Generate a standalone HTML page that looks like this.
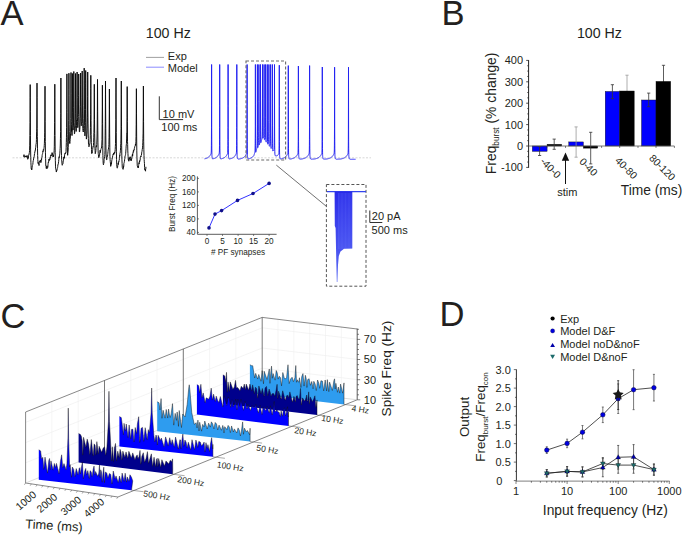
<!DOCTYPE html>
<html><head><meta charset="utf-8"><style>
html,body{margin:0;padding:0;background:#fff;}
svg{display:block;}
text{font-family:"Liberation Sans", sans-serif;}
</style></head><body>
<svg width="685" height="537" viewBox="0 0 685 537" font-family='"Liberation Sans", sans-serif'>
<rect width="685" height="537" fill="#fff"/>
<text x="0.6" y="24.9" font-size="34.6" text-anchor="start" fill="#231f20" >A</text>
<text x="145.8" y="38.1" font-size="14.2" text-anchor="start" fill="#231f20" >100 Hz</text>
<line x1="146" y1="57.4" x2="164" y2="57.4" stroke="#888" stroke-width="0.8"/>
<line x1="146" y1="67.2" x2="164" y2="67.2" stroke="#6d6dff" stroke-width="0.8"/>
<text x="167.8" y="60.2" font-size="11" text-anchor="start" fill="#231f20" >Exp</text>
<text x="167.8" y="71.6" font-size="11" text-anchor="start" fill="#231f20" >Model</text>
<line x1="12.5" y1="157.8" x2="371" y2="157.8" stroke="#bbb" stroke-width="0.6" stroke-dasharray="2,1.5"/>
<polyline points="23.40,156.24 23.55,156.20 23.70,156.49 23.85,156.45 24.00,154.67 24.15,156.49 24.30,156.44 24.45,157.17 24.60,157.11 24.75,157.02 24.90,157.06 25.05,156.99 25.20,155.95 25.35,155.87 25.50,156.67 25.65,157.01 25.80,156.91 25.95,156.51 26.10,156.40 26.25,156.03 26.40,157.25 26.55,157.12 26.70,156.33 26.85,156.17 27.00,155.49 27.15,156.10 27.30,155.91 27.45,157.52 27.60,157.30 27.75,159.27 27.90,159.09 28.05,158.82 28.20,157.42 28.35,157.90 28.50,156.03 28.65,155.27 28.80,154.84 28.95,154.92 29.10,154.01 29.25,153.08 29.40,152.46 29.55,150.32 29.70,145.15 29.85,135.51 30.00,122.52 30.15,97.43 30.20,84.60 30.30,111.33 30.45,135.70 30.60,149.92 30.75,157.55 30.90,162.62 31.05,165.36 31.20,168.50 31.35,169.05 31.50,168.57 31.65,169.99 31.80,169.74 31.95,168.92 32.10,167.76 32.25,165.88 32.40,165.52 32.55,164.98 32.70,164.57 32.85,164.31 33.00,162.29 33.15,160.89 33.30,160.62 33.45,160.05 33.60,158.91 33.75,157.43 33.90,157.59 34.05,157.09 34.20,156.55 34.35,155.11 34.50,153.79 34.65,153.48 34.80,151.87 34.95,151.33 35.10,151.47 35.25,150.10 35.40,150.26 35.55,148.02 35.70,147.36 35.85,146.12 36.00,144.39 36.15,143.98 36.30,142.63 36.45,139.35 36.60,131.84 36.75,128.04 36.90,107.11 37.00,83.10 37.05,97.48 37.20,128.19 37.35,136.64 37.50,148.21 37.65,155.42 37.80,159.70 37.95,161.69 38.10,163.46 38.25,162.54 38.40,163.19 38.55,163.92 38.70,163.63 38.85,164.18 39.00,165.56 39.15,163.22 39.30,161.74 39.45,162.03 39.60,161.50 39.75,161.81 39.90,160.97 40.05,161.12 40.20,160.61 40.35,160.10 40.50,160.11 40.65,161.90 40.80,162.59 40.95,162.66 41.10,162.21 41.25,159.91 41.40,159.63 41.55,160.08 41.70,157.91 41.85,157.50 42.00,157.33 42.15,155.48 42.30,154.54 42.45,153.90 42.60,153.50 42.75,152.55 42.90,151.21 43.05,151.79 43.20,149.99 43.35,149.52 43.50,150.01 43.65,150.39 43.80,149.28 43.95,148.46 44.10,147.41 44.25,145.62 44.40,143.33 44.55,137.61 44.70,132.86 44.85,116.96 45.00,86.20 45.00,86.20 45.15,121.73 45.30,141.42 45.45,152.23 45.60,158.64 45.75,165.00 45.90,166.28 46.05,166.42 46.20,168.33 46.35,168.75 46.50,168.45 46.65,166.77 46.80,165.84 46.95,166.77 47.10,166.34 47.25,168.42 47.40,168.35 47.55,167.75 47.70,167.51 47.85,167.02 48.00,164.76 48.15,163.29 48.30,162.16 48.45,162.65 48.60,162.21 48.75,160.77 48.90,159.18 49.05,160.50 49.20,160.53 49.35,160.17 49.50,160.23 49.65,159.52 49.80,159.97 49.95,157.97 50.10,157.67 50.25,158.22 50.40,156.77 50.55,155.72 50.70,155.07 50.85,154.81 51.00,155.44 51.15,155.61 51.30,156.09 51.45,155.02 51.60,154.76 51.75,153.66 51.90,153.27 52.05,152.67 52.20,153.23 52.35,152.94 52.50,155.20 52.65,155.32 52.80,156.41 52.95,157.04 53.10,156.66 53.25,155.34 53.40,155.95 53.55,156.61 53.70,154.70 53.85,153.79 54.00,153.23 54.15,150.67 54.30,146.74 54.45,135.55 54.60,122.44 54.75,97.14 54.80,84.20 54.90,111.00 55.05,135.54 55.20,152.48 55.35,160.29 55.50,166.14 55.65,168.70 55.80,169.44 55.95,169.42 56.10,169.69 56.25,171.90 56.40,171.97 56.55,170.48 56.70,170.43 56.85,169.93 57.00,170.28 57.15,169.42 57.30,168.36 57.45,168.14 57.60,167.51 57.75,166.49 57.90,164.65 58.05,164.30 58.20,164.45 58.35,163.83 58.50,162.01 58.65,161.44 58.80,159.63 58.95,157.47 59.10,156.84 59.25,157.62 59.40,155.82 59.55,155.79 59.70,154.19 59.85,153.24 60.00,150.68 60.15,148.56 60.30,145.01 60.45,138.51 60.60,131.60 60.75,113.34 60.90,78.00 60.90,78.00 61.05,117.13 61.20,139.10 61.35,149.04 61.50,155.61 61.65,159.68 61.80,160.98 61.95,163.03 62.10,164.50 62.25,165.28 62.40,164.51 62.55,164.27 62.70,163.98 62.85,164.10 63.00,163.38 63.15,161.04 63.30,161.10 63.45,160.55 63.60,159.01 63.75,157.21 63.90,157.50 64.05,157.57 64.20,156.79 64.35,158.34 64.50,155.93 64.65,154.24 64.80,153.94 64.95,153.17 65.10,153.21 65.25,153.64 65.40,154.08 65.55,153.52 65.70,152.57 65.85,152.83 66.00,151.63 66.15,147.59 66.30,142.64 66.45,137.31 66.60,127.48 66.75,109.19 66.90,73.90 66.90,73.90 67.05,112.61 67.20,134.33 67.35,146.34 67.50,152.84 67.65,155.31 67.80,153.38 67.95,152.68 68.10,151.42 68.25,147.36 68.40,141.89 68.55,137.01 68.70,120.64 68.85,89.22 68.90,73.20 69.00,95.37 69.15,124.25 69.30,131.50 69.45,140.32 69.60,143.32 69.75,143.52 69.90,143.63 70.05,141.33 70.20,139.62 70.35,138.09 70.50,134.09 70.65,134.62 70.80,118.57 70.95,88.03 71.00,72.50 71.10,93.81 71.25,121.63 71.40,124.25 71.55,131.43 71.70,130.98 71.85,128.42 72.00,135.58 72.15,123.57 72.30,100.27 72.40,73.50 72.45,79.06 72.60,112.22 72.75,119.20 72.90,127.95 73.05,130.09 73.20,127.82 73.35,125.62 73.50,125.71 73.65,107.29 73.80,71.50 73.80,71.50 73.95,100.85 74.10,122.60 74.25,126.58 74.40,133.72 74.55,133.83 74.70,132.84 74.85,130.38 75.00,126.52 75.15,127.38 75.30,113.51 75.45,86.99 75.50,73.50 75.60,90.27 75.75,115.02 75.90,120.93 76.05,130.11 76.20,131.47 76.35,128.75 76.50,125.53 76.65,120.12 76.80,120.72 76.95,104.06 77.10,72.00 77.10,72.00 77.25,97.68 77.40,117.46 77.55,121.61 77.70,127.62 77.85,127.66 78.00,125.12 78.15,122.26 78.30,116.62 78.45,114.60 78.60,95.62 78.70,74.00 78.75,76.86 78.90,104.36 79.05,116.43 79.20,124.93 79.35,131.95 79.50,131.82 79.65,131.54 79.80,129.42 79.95,127.32 80.10,123.03 80.25,118.40 80.40,106.58 80.55,84.28 80.60,73.00 80.70,86.19 80.85,107.50 81.00,117.22 81.15,124.94 81.30,125.79 81.45,124.84 81.60,124.16 81.75,121.26 81.90,111.98 82.05,97.83 82.20,71.00 82.20,71.00 82.35,93.00 82.50,113.05 82.65,123.61 82.80,128.69 82.95,130.49 83.10,130.82 83.25,132.00 83.40,130.20 83.55,128.35 83.70,124.98 83.85,118.33 84.00,105.60 84.15,80.81 84.20,68.10 84.30,85.07 84.45,109.72 84.60,125.38 84.75,133.23 84.90,135.88 85.05,134.29 85.20,131.36 85.35,122.45 85.50,109.48 85.65,83.76 85.70,70.50 85.80,87.59 85.95,113.22 86.10,130.16 86.25,136.16 86.40,139.12 86.55,137.54 86.70,137.46 86.85,134.77 87.00,133.18 87.15,128.93 87.30,124.07 87.45,117.83 87.60,96.49 87.70,72.00 87.75,77.65 87.90,109.06 88.05,123.86 88.20,134.02 88.35,138.65 88.50,144.33 88.65,145.52 88.80,145.78 88.95,146.81 89.10,146.26 89.25,145.74 89.40,145.58 89.55,144.97 89.70,143.81 89.85,143.81 90.00,142.25 90.15,139.40 90.30,135.25 90.45,127.73 90.60,114.20 90.75,88.42 90.80,75.30 90.90,95.83 91.05,120.56 91.20,134.77 91.35,142.59 91.50,149.48 91.65,153.30 91.80,153.67 91.95,153.07 92.10,152.10 92.25,152.51 92.40,151.16 92.55,150.64 92.70,149.47 92.85,147.67 93.00,146.69 93.15,147.17 93.30,146.05 93.45,145.29 93.60,142.41 93.75,137.85 93.90,132.40 94.05,123.18 94.20,104.99 94.30,84.30 94.35,92.16 94.50,119.22 94.65,133.28 94.80,141.97 94.95,148.30 95.10,150.75 95.25,153.66 95.40,152.73 95.55,152.65 95.70,151.86 95.85,150.50 96.00,148.40 96.15,146.56 96.30,145.72 96.45,146.69 96.60,146.82 96.75,144.58 96.90,140.99 97.05,136.03 97.20,127.94 97.35,111.31 97.50,79.40 97.50,79.40 97.65,109.97 97.80,130.17 97.95,142.83 98.10,150.23 98.25,153.65 98.40,154.65 98.55,156.10 98.70,157.44 98.85,157.73 99.00,156.42 99.15,156.59 99.30,156.21 99.45,156.11 99.60,155.15 99.75,152.56 99.90,151.59 100.05,150.96 100.20,150.04 100.35,152.61 100.50,151.51 100.65,150.28 100.80,149.57 100.95,149.28 101.10,148.56 101.25,148.31 101.40,148.23 101.55,146.91 101.70,147.13 101.85,143.01 102.00,139.39 102.15,124.52 102.30,106.16 102.40,85.20 102.45,96.13 102.60,123.61 102.75,145.53 102.90,155.51 103.05,160.72 103.20,163.35 103.35,164.51 103.50,164.83 103.65,163.64 103.80,163.36 103.95,162.99 104.10,159.58 104.25,158.93 104.40,158.11 104.55,156.88 104.70,156.27 104.85,154.47 105.00,150.47 105.15,135.85 105.30,121.71 105.45,94.74 105.50,81.00 105.60,102.64 105.75,128.31 105.90,144.90 106.05,153.07 106.20,156.29 106.35,158.53 106.50,158.65 106.65,159.80 106.80,159.74 106.95,157.54 107.10,156.22 107.25,155.63 107.40,156.41 107.55,155.79 107.70,154.38 107.85,153.25 108.00,151.58 108.15,150.15 108.30,149.14 108.45,149.09 108.60,147.90 108.75,146.37 108.90,144.59 109.05,137.41 109.20,124.92 109.35,101.11 109.40,89.00 109.50,109.88 109.65,133.10 109.80,147.53 109.95,156.48 110.10,159.55 110.25,161.57 110.40,162.99 110.55,164.03 110.70,166.36 110.85,166.03 111.00,164.22 111.15,163.94 111.30,163.60 111.45,164.28 111.60,161.95 111.75,160.85 111.90,159.86 112.05,159.35 112.20,158.00 112.35,158.08 112.50,157.77 112.65,156.04 112.80,155.50 112.95,154.76 113.10,154.46 113.25,154.95 113.40,154.36 113.55,153.85 113.70,152.89 113.85,154.46 114.00,153.85 114.15,153.53 114.30,153.00 114.45,153.24 114.60,152.06 114.75,152.65 114.90,152.09 115.05,151.06 115.20,149.49 115.35,146.73 115.50,143.61 115.65,134.04 115.80,119.74 115.95,92.13 116.00,78.00 116.10,106.12 116.25,132.51 116.40,151.19 116.55,159.52 116.70,164.20 116.85,166.70 117.00,167.36 117.15,168.13 117.30,168.13 117.45,167.40 117.60,167.24 117.75,165.65 117.90,164.69 118.05,164.18 118.20,162.85 118.35,164.51 118.50,163.33 118.65,161.75 118.80,161.10 118.95,161.46 119.10,160.30 119.25,160.08 119.40,158.53 119.55,157.83 119.70,155.15 119.85,155.67 120.00,153.29 120.15,152.99 120.30,151.87 120.45,150.28 120.60,147.28 120.75,143.68 120.90,139.96 121.05,128.38 121.20,106.29 121.30,81.00 121.35,94.82 121.50,126.85 121.65,145.31 121.80,155.20 121.95,159.81 122.10,163.37 122.25,167.14 122.40,167.98 122.55,168.46 122.70,168.77 122.85,168.67 123.00,169.25 123.15,169.30 123.30,168.80 123.45,168.11 123.60,165.93 123.75,166.24 123.90,163.38 124.05,162.74 124.20,162.63 124.35,161.71 124.50,161.06 124.65,159.22 124.80,158.57 124.95,156.41 125.10,156.43 125.25,155.85 125.40,155.19 125.55,154.52 125.70,153.29 125.85,151.08 126.00,148.74 126.15,146.14 126.30,144.93 126.45,143.43 126.60,138.96 126.75,133.63 126.90,133.95 127.05,117.79 127.20,86.60 127.20,86.60 127.35,121.40 127.50,141.25 127.65,144.45 127.80,150.91 127.95,153.55 128.10,156.53 128.25,159.43 128.40,159.82 128.55,160.24 128.70,159.42 128.85,161.22 129.00,159.46 129.15,158.10 129.30,157.66 129.45,159.37 129.60,158.62 129.75,158.35 129.90,157.65 130.05,157.15 130.20,156.72 130.35,157.00 130.50,158.63 130.65,159.88 130.80,159.43 130.95,159.66 131.10,160.98 131.25,158.81 131.40,159.62 131.55,159.25 131.70,159.19 131.85,157.90 132.00,156.66 132.15,155.50 132.30,155.18 132.45,154.17 132.60,156.20 132.75,154.71 132.90,152.94 133.05,152.65 133.20,152.90 133.35,150.58 133.50,150.42 133.65,151.40 133.80,151.08 133.95,150.05 134.10,149.55 134.25,149.84 134.40,148.30 134.55,147.93 134.70,146.64 134.85,146.25 135.00,146.28 135.15,146.19 135.30,145.52 135.45,144.05 135.60,145.29 135.75,144.47 135.90,141.64 136.05,136.53 136.20,124.30 136.35,100.74 136.40,88.70 136.50,113.82 136.65,136.96 136.80,150.82 136.95,157.11 137.10,162.00 137.25,165.85 137.40,165.89 137.55,166.84 137.70,167.02 137.85,167.41 138.00,166.56 138.15,167.68 138.30,167.27 138.45,167.67 138.60,165.56 138.75,164.37 138.90,163.21 139.05,162.64 139.20,163.68 139.35,162.32 139.50,160.67 139.65,161.80 139.80,161.24 139.95,160.72 140.10,160.37 140.25,158.83 140.40,157.55 140.55,157.04 140.70,156.41 140.85,155.99 141.00,156.71 141.15,155.72 141.30,155.21 141.45,155.02 141.60,154.03 141.75,152.08 141.90,151.65 142.05,151.04 142.20,149.67 142.35,149.00 142.50,147.87 142.65,145.48 142.80,142.85 142.95,138.56 143.10,133.13 143.25,117.07 143.40,86.00 143.40,86.00 143.55,121.46 143.70,141.28 143.85,149.41 144.00,155.52 144.15,159.50 144.30,161.81 144.45,163.38 144.60,167.45 144.75,169.61 144.90,169.04 145.05,168.99 145.20,169.37 145.35,170.91 145.50,171.20 145.65,169.13 145.80,168.71 145.95,166.82" fill="none" stroke="#0a0a0a" stroke-width="0.95" stroke-linejoin="round"/>
<polyline points="204.50,158.84 204.55,158.83 204.60,158.83 204.65,158.82 204.70,158.81 204.75,158.80 204.80,158.79 204.85,158.78 204.90,158.77 204.95,158.76 205.00,158.75 205.05,158.74 205.10,158.73 205.15,158.71 205.20,158.70 205.25,158.69 205.30,158.68 205.35,158.67 205.40,158.66 205.45,158.64 205.50,158.63 205.55,158.62 205.60,158.60 205.65,158.59 205.70,158.58 205.75,158.56 205.80,158.55 205.85,158.53 205.90,158.52 205.95,158.50 206.00,158.49 206.05,158.47 206.10,158.46 206.15,158.44 206.20,158.42 206.25,158.41 206.30,158.39 206.35,158.37 206.40,158.35 206.45,158.33 206.50,158.32 206.55,158.30 206.60,158.28 206.65,158.26 206.70,158.24 206.75,158.22 206.80,158.20 206.85,158.17 206.90,158.15 206.95,158.13 207.00,158.11 207.05,158.08 207.10,158.06 207.15,158.04 207.20,158.01 207.25,157.99 207.30,157.96 207.35,157.93 207.40,157.91 207.45,157.88 207.50,157.85 207.55,157.83 207.60,157.80 207.65,157.77 207.70,157.74 207.75,157.71 207.80,157.68 207.85,157.65 207.90,157.61 207.95,157.58 208.00,157.55 208.05,157.51 208.10,157.48 208.15,157.44 208.20,157.41 208.25,157.37 208.30,157.33 208.35,157.29 208.40,157.26 208.45,157.22 208.50,157.18 208.55,157.13 208.60,157.09 208.65,157.05 208.70,157.01 208.75,156.96 208.80,156.92 208.85,156.87 208.90,156.82 208.95,156.77 209.00,156.72 209.05,156.67 209.10,156.62 209.15,156.57 209.20,156.52 209.25,156.46 209.30,156.41 209.35,156.35 209.40,156.30 209.45,156.24 209.50,156.18 209.55,156.12 209.60,156.06 209.65,155.99 209.70,155.93 209.75,155.86 209.80,155.80 209.85,155.73 209.90,155.66 209.95,155.59 210.00,155.52 210.05,155.44 210.10,155.37 210.15,155.29 210.20,155.21 210.25,155.14 210.30,155.05 210.35,154.97 210.40,154.89 210.45,154.80 210.50,154.71 210.55,154.63 210.60,154.53 210.65,154.44 210.70,154.35 210.75,154.25 210.80,154.15 210.85,154.05 210.90,153.94 210.95,153.82 211.00,153.69 211.05,153.54 211.10,153.36 211.15,153.10 211.20,152.71 211.25,152.08 211.30,151.00 211.35,149.08 211.40,145.61 211.45,139.23 211.50,127.41 211.55,105.44 211.60,64.50 211.60,64.50 211.65,106.24 211.70,128.88 211.75,141.28 211.80,148.14 211.85,152.02 211.90,154.26 211.95,155.62 212.00,156.48 212.05,157.05 212.10,157.45 212.15,157.76 212.20,157.99 212.25,158.18 212.30,158.34 212.35,158.47 212.40,158.58 212.45,158.68 212.50,158.76 212.55,158.84 212.60,158.84 212.65,158.83 212.70,158.83 212.75,158.82 212.80,158.81 212.85,158.80 212.90,158.79 212.95,158.78 213.00,158.77 213.05,158.76 213.10,158.75 213.15,158.74 213.20,158.73 213.25,158.71 213.30,158.70 213.35,158.69 213.40,158.68 213.45,158.67 213.50,158.66 213.55,158.64 213.60,158.63 213.65,158.62 213.70,158.60 213.75,158.59 213.80,158.58 213.85,158.56 213.90,158.55 213.95,158.53 214.00,158.52 214.05,158.50 214.10,158.49 214.15,158.47 214.20,158.46 214.25,158.44 214.30,158.42 214.35,158.41 214.40,158.39 214.45,158.37 214.50,158.35 214.55,158.33 214.60,158.32 214.65,158.30 214.70,158.28 214.75,158.26 214.80,158.24 214.85,158.22 214.90,158.20 214.95,158.17 215.00,158.15 215.05,158.13 215.10,158.11 215.15,158.08 215.20,158.06 215.25,158.04 215.30,158.01 215.35,157.99 215.40,157.96 215.45,157.93 215.50,157.91 215.55,157.88 215.60,157.85 215.65,157.83 215.70,157.80 215.75,157.77 215.80,157.74 215.85,157.71 215.90,157.68 215.95,157.65 216.00,157.61 216.05,157.58 216.10,157.55 216.15,157.51 216.20,157.48 216.25,157.44 216.30,157.41 216.35,157.37 216.40,157.33 216.45,157.29 216.50,157.26 216.55,157.22 216.60,157.18 216.65,157.13 216.70,157.09 216.75,157.05 216.80,157.01 216.85,156.96 216.90,156.92 216.95,156.87 217.00,156.82 217.05,156.77 217.10,156.72 217.15,156.67 217.20,156.62 217.25,156.57 217.30,156.52 217.35,156.46 217.40,156.41 217.45,156.35 217.50,156.30 217.55,156.24 217.60,156.18 217.65,156.12 217.70,156.06 217.75,155.99 217.80,155.93 217.85,155.86 217.90,155.80 217.95,155.73 218.00,155.66 218.05,155.59 218.10,155.52 218.15,155.44 218.20,155.37 218.25,155.29 218.30,155.21 218.35,155.14 218.40,155.05 218.45,154.97 218.50,154.89 218.55,154.80 218.60,154.71 218.65,154.63 218.70,154.53 218.75,154.44 218.80,154.35 218.85,154.25 218.90,154.15 218.95,154.05 219.00,153.94 219.05,153.82 219.10,153.69 219.15,153.54 219.20,153.36 219.25,153.10 219.30,152.71 219.35,152.08 219.40,151.00 219.45,149.08 219.50,145.61 219.55,139.23 219.60,127.41 219.65,105.44 219.70,64.50 219.70,64.50 219.75,106.24 219.80,128.88 219.85,141.28 219.90,148.14 219.95,152.02 220.00,154.26 220.05,155.62 220.10,156.48 220.15,157.05 220.20,157.45 220.25,157.76 220.30,157.99 220.35,158.18 220.40,158.34 220.45,158.47 220.50,158.58 220.55,158.68 220.60,158.76 220.65,158.84 220.70,158.89 220.75,158.89 220.80,158.88 220.85,158.87 220.90,158.86 220.95,158.85 221.00,158.84 221.05,158.83 221.10,158.83 221.15,158.82 221.20,158.81 221.25,158.80 221.30,158.79 221.35,158.78 221.40,158.77 221.45,158.76 221.50,158.75 221.55,158.74 221.60,158.73 221.65,158.71 221.70,158.70 221.75,158.69 221.80,158.68 221.85,158.67 221.90,158.66 221.95,158.64 222.00,158.63 222.05,158.62 222.10,158.60 222.15,158.59 222.20,158.58 222.25,158.56 222.30,158.55 222.35,158.53 222.40,158.52 222.45,158.50 222.50,158.49 222.55,158.47 222.60,158.46 222.65,158.44 222.70,158.42 222.75,158.41 222.80,158.39 222.85,158.37 222.90,158.35 222.95,158.33 223.00,158.32 223.05,158.30 223.10,158.28 223.15,158.26 223.20,158.24 223.25,158.22 223.30,158.20 223.35,158.17 223.40,158.15 223.45,158.13 223.50,158.11 223.55,158.08 223.60,158.06 223.65,158.04 223.70,158.01 223.75,157.99 223.80,157.96 223.85,157.93 223.90,157.91 223.95,157.88 224.00,157.85 224.05,157.83 224.10,157.80 224.15,157.77 224.20,157.74 224.25,157.71 224.30,157.68 224.35,157.65 224.40,157.61 224.45,157.58 224.50,157.55 224.55,157.51 224.60,157.48 224.65,157.44 224.70,157.41 224.75,157.37 224.80,157.33 224.85,157.29 224.90,157.26 224.95,157.22 225.00,157.18 225.05,157.13 225.10,157.09 225.15,157.05 225.20,157.01 225.25,156.96 225.30,156.92 225.35,156.87 225.40,156.82 225.45,156.77 225.50,156.72 225.55,156.67 225.60,156.62 225.65,156.57 225.70,156.52 225.75,156.46 225.80,156.41 225.85,156.35 225.90,156.30 225.95,156.24 226.00,156.18 226.05,156.12 226.10,156.06 226.15,155.99 226.20,155.93 226.25,155.86 226.30,155.80 226.35,155.73 226.40,155.66 226.45,155.59 226.50,155.52 226.55,155.44 226.60,155.37 226.65,155.29 226.70,155.21 226.75,155.14 226.80,155.05 226.85,154.97 226.90,154.89 226.95,154.80 227.00,154.71 227.05,154.63 227.10,154.53 227.15,154.44 227.20,154.35 227.25,154.25 227.30,154.15 227.35,154.05 227.40,153.94 227.45,153.82 227.50,153.69 227.55,153.54 227.60,153.36 227.65,153.10 227.70,152.71 227.75,152.08 227.80,151.00 227.85,149.08 227.90,145.61 227.95,139.23 228.00,127.41 228.05,105.44 228.10,64.50 228.10,64.50 228.15,106.24 228.20,128.88 228.25,141.28 228.30,148.14 228.35,152.02 228.40,154.26 228.45,155.62 228.50,156.48 228.55,157.05 228.60,157.45 228.65,157.76 228.70,157.99 228.75,158.18 228.80,158.34 228.85,158.47 228.90,158.58 228.95,158.68 229.00,158.76 229.05,158.84 229.10,158.90 229.15,158.93 229.20,158.92 229.25,158.92 229.30,158.91 229.35,158.90 229.40,158.89 229.45,158.89 229.50,158.88 229.55,158.87 229.60,158.86 229.65,158.85 229.70,158.84 229.75,158.83 229.80,158.83 229.85,158.82 229.90,158.81 229.95,158.80 230.00,158.79 230.05,158.78 230.10,158.77 230.15,158.76 230.20,158.75 230.25,158.74 230.30,158.73 230.35,158.71 230.40,158.70 230.45,158.69 230.50,158.68 230.55,158.67 230.60,158.66 230.65,158.64 230.70,158.63 230.75,158.62 230.80,158.60 230.85,158.59 230.90,158.58 230.95,158.56 231.00,158.55 231.05,158.53 231.10,158.52 231.15,158.50 231.20,158.49 231.25,158.47 231.30,158.46 231.35,158.44 231.40,158.42 231.45,158.41 231.50,158.39 231.55,158.37 231.60,158.35 231.65,158.33 231.70,158.32 231.75,158.30 231.80,158.28 231.85,158.26 231.90,158.24 231.95,158.22 232.00,158.20 232.05,158.17 232.10,158.15 232.15,158.13 232.20,158.11 232.25,158.08 232.30,158.06 232.35,158.04 232.40,158.01 232.45,157.99 232.50,157.96 232.55,157.93 232.60,157.91 232.65,157.88 232.70,157.85 232.75,157.83 232.80,157.80 232.85,157.77 232.90,157.74 232.95,157.71 233.00,157.68 233.05,157.65 233.10,157.61 233.15,157.58 233.20,157.55 233.25,157.51 233.30,157.48 233.35,157.44 233.40,157.41 233.45,157.37 233.50,157.33 233.55,157.29 233.60,157.26 233.65,157.22 233.70,157.18 233.75,157.13 233.80,157.09 233.85,157.05 233.90,157.01 233.95,156.96 234.00,156.92 234.05,156.87 234.10,156.82 234.15,156.77 234.20,156.72 234.25,156.67 234.30,156.62 234.35,156.57 234.40,156.52 234.45,156.46 234.50,156.41 234.55,156.35 234.60,156.30 234.65,156.24 234.70,156.18 234.75,156.12 234.80,156.06 234.85,155.99 234.90,155.93 234.95,155.86 235.00,155.80 235.05,155.73 235.10,155.66 235.15,155.59 235.20,155.52 235.25,155.44 235.30,155.37 235.35,155.29 235.40,155.21 235.45,155.14 235.50,155.05 235.55,154.97 235.60,154.89 235.65,154.80 235.70,154.71 235.75,154.63 235.80,154.53 235.85,154.44 235.90,154.35 235.95,154.25 236.00,154.15 236.05,154.05 236.10,153.94 236.15,153.82 236.20,153.69 236.25,153.54 236.30,153.36 236.35,153.10 236.40,152.71 236.45,152.08 236.50,151.00 236.55,149.08 236.60,145.61 236.65,139.23 236.70,127.41 236.75,105.44 236.80,64.50 236.80,64.50 236.85,106.24 236.90,128.88 236.95,141.28 237.00,148.14 237.05,152.02 237.10,154.26 237.15,155.62 237.20,156.48 237.25,157.05 237.30,157.45 237.35,157.76 237.40,157.99 237.45,158.18 237.50,158.34 237.55,158.47 237.60,158.58 237.65,158.68 237.70,158.76 237.75,158.84 237.80,158.90 237.85,158.95 237.90,159.00 237.95,159.04 238.00,159.07 238.05,159.08 238.10,159.08 238.15,159.08 238.20,159.07 238.25,159.07 238.30,159.06 238.35,159.06 238.40,159.05 238.45,159.05 238.50,159.04 238.55,159.04 238.60,159.03 238.65,159.03 238.70,159.02 238.75,159.02 238.80,159.01 238.85,159.01 238.90,159.00 238.95,159.00 239.00,158.99 239.05,158.98 239.10,158.98 239.15,158.97 239.20,158.96 239.25,158.96 239.30,158.95 239.35,158.94 239.40,158.94 239.45,158.93 239.50,158.92 239.55,158.92 239.60,158.91 239.65,158.90 239.70,158.89 239.75,158.89 239.80,158.88 239.85,158.87 239.90,158.86 239.95,158.85 240.00,158.84 240.05,158.83 240.10,158.83 240.15,158.82 240.20,158.81 240.25,158.80 240.30,158.79 240.35,158.78 240.40,158.77 240.45,158.76 240.50,158.75 240.55,158.74 240.60,158.73 240.65,158.71 240.70,158.70 240.75,158.69 240.80,158.68 240.85,158.67 240.90,158.66 240.95,158.64 241.00,158.63 241.05,158.62 241.10,158.60 241.15,158.59 241.20,158.58 241.25,158.56 241.30,158.55 241.35,158.53 241.40,158.52 241.45,158.50 241.50,158.49 241.55,158.47 241.60,158.46 241.65,158.44 241.70,158.42 241.75,158.41 241.80,158.39 241.85,158.37 241.90,158.35 241.95,158.33 242.00,158.32 242.05,158.30 242.10,158.28 242.15,158.26 242.20,158.24 242.25,158.22 242.30,158.20 242.35,158.17 242.40,158.15 242.45,158.13 242.50,158.11 242.55,158.08 242.60,158.06 242.65,158.04 242.70,158.01 242.75,157.99 242.80,157.96 242.85,157.93 242.90,157.91 242.95,157.88 243.00,157.85 243.05,157.83 243.10,157.80 243.15,157.77 243.20,157.74 243.25,157.71 243.30,157.68 243.35,157.65 243.40,157.61 243.45,157.58 243.50,157.55 243.55,157.51 243.60,157.48 243.65,157.44 243.70,157.41 243.75,157.37 243.80,157.33 243.85,157.29 243.90,157.26 243.95,157.22 244.00,157.18 244.05,157.13 244.10,157.09 244.15,157.05 244.20,157.01 244.25,156.96 244.30,156.92 244.35,156.87 244.40,156.82 244.45,156.77 244.50,156.72 244.55,156.67 244.60,156.62 244.65,156.57 244.70,156.52 244.75,156.46 244.80,156.41 244.85,156.35 244.90,156.30 244.95,156.24 245.00,156.18 245.05,156.12 245.10,156.06 245.15,155.99 245.20,155.93 245.25,155.86 245.30,155.80 245.35,155.73 245.40,155.66 245.45,155.59 245.50,155.52 245.55,155.44 245.60,155.37 245.65,155.29 245.70,155.21 245.75,155.14 245.80,155.05 245.85,154.97 245.90,154.89 245.95,154.80 246.00,154.71 246.05,154.63 246.10,154.53 246.15,154.44 246.20,154.35 246.25,154.25 246.30,154.15 246.35,154.05 246.40,153.94 246.45,153.82 246.50,153.69 246.55,153.54 246.60,153.36 246.65,153.10 246.70,152.71 246.75,152.08 246.80,151.00 246.85,149.08 246.90,145.61 246.95,139.23 247.00,127.41 247.05,105.44 247.10,64.50 247.10,64.50 247.15,106.24 247.20,128.88 247.25,141.28 247.30,148.14 247.35,152.02 247.40,154.26 247.45,155.62 247.50,156.48 247.55,157.05 247.60,157.45 247.65,157.76 247.70,157.99 247.75,158.18 247.80,158.34 247.85,158.47 247.90,158.58 247.95,158.68 248.00,158.76 248.05,158.84 248.10,158.88 248.15,158.87 248.20,158.86 248.25,158.85 248.30,158.84 248.35,158.83 248.40,158.83 248.45,158.82 248.50,158.81 248.55,158.80 248.60,158.79 248.65,158.78 248.70,158.77 248.75,158.76 248.80,158.75 248.85,158.74 248.90,158.73 248.95,158.71 249.00,158.70 249.05,158.69 249.10,158.68 249.15,158.67 249.20,158.66 249.25,158.64 249.30,158.63 249.35,158.62 249.40,158.60 249.45,158.59 249.50,158.58 249.55,158.56 249.60,158.55 249.65,158.53 249.70,158.52 249.75,158.50 249.80,158.49 249.85,158.47 249.90,158.46 249.95,158.44 250.00,158.42 250.05,158.41 250.10,158.39 250.15,158.37 250.20,158.35 250.25,158.33 250.30,158.32 250.35,158.30 250.40,158.28 250.45,158.26 250.50,158.24 250.55,158.22 250.60,158.20 250.65,158.17 250.70,158.15 250.75,158.13 250.80,158.11 250.85,158.08 250.90,158.06 250.95,158.04 251.00,158.01 251.05,157.99 251.10,157.96 251.15,157.93 251.20,157.91 251.25,157.88 251.30,157.85 251.35,157.83 251.40,157.80 251.45,157.77 251.50,157.74 251.55,157.71 251.60,157.68 251.65,157.65 251.70,157.61 251.75,157.58 251.80,157.55 251.85,157.51 251.90,157.48 251.95,157.44 252.00,157.41 252.05,157.37 252.10,157.33 252.15,157.29 252.20,157.26 252.25,157.22 252.30,157.18 252.35,157.13 252.40,157.09 252.45,157.05 252.50,157.01 252.55,156.96 252.60,156.92 252.65,156.87 252.70,156.82 252.75,156.77 252.80,156.72 252.85,156.67 252.90,156.62 252.95,156.57 253.00,156.52 253.05,156.46 253.10,156.41 253.15,156.35 253.20,156.30 253.25,156.24 253.30,156.18 253.35,156.12 253.40,156.06 253.45,155.99 253.50,155.93 253.55,155.86 253.60,155.80 253.65,155.73 253.70,155.66 253.75,155.59 253.80,155.52 253.85,155.44 253.90,155.37 253.95,155.29 254.00,155.21 254.05,155.04 254.10,154.87 254.15,154.69 254.20,154.51 254.25,154.33 254.30,154.15 254.35,153.96 254.40,153.78 254.45,153.59 254.50,153.40 254.55,153.21 254.60,153.02 254.65,152.82 254.70,152.62 254.75,152.41 254.80,152.18 254.85,151.94 254.90,151.66 254.95,151.31 255.00,150.84 255.05,150.13 255.10,148.98 255.15,147.03 255.20,143.56 255.25,137.27 255.30,125.71 255.35,104.30 255.40,64.50 255.40,64.50 255.45,104.91 255.50,126.81 255.55,138.75 255.60,145.33 255.65,149.02 255.70,151.12 255.75,152.28 255.80,152.12 255.85,151.95 255.90,151.78 255.95,151.61 256.00,151.44 256.05,151.26 256.10,151.09 256.15,150.91 256.20,150.73 256.25,150.55 256.30,150.37 256.35,150.19 256.40,150.00 256.45,149.81 256.50,149.62 256.55,149.43 256.60,149.24 256.65,149.04 256.70,148.84 256.75,148.63 256.80,148.41 256.85,148.17 256.90,147.89 256.95,147.55 257.00,147.08 257.05,146.40 257.10,145.29 257.15,143.42 257.20,140.09 257.25,134.07 257.30,123.02 257.35,102.55 257.40,64.50 257.40,64.50 257.45,103.16 257.50,124.11 257.55,135.55 257.60,141.87 257.65,145.40 257.70,147.43 257.75,147.72 257.80,147.54 257.85,147.35 257.90,147.17 257.95,146.98 258.00,146.79 258.05,146.60 258.10,146.41 258.15,146.21 258.20,146.01 258.25,145.80 258.30,145.58 258.35,145.34 258.40,145.06 258.45,144.72 258.50,144.27 258.55,143.60 258.60,142.53 258.65,140.71 258.70,137.49 258.75,131.68 258.80,120.99 258.85,101.23 258.90,64.50 258.90,64.50 258.95,101.84 259.00,122.09 259.05,133.16 259.10,139.27 259.15,142.69 259.20,144.66 259.25,145.06 259.30,144.88 259.35,144.70 259.40,144.51 259.45,144.33 259.50,144.15 259.55,143.96 259.60,143.77 259.65,143.58 259.70,143.38 259.75,143.19 259.80,142.98 259.85,142.78 259.90,142.56 259.95,142.32 260.00,142.05 260.05,141.71 260.10,141.27 260.15,140.61 260.20,139.58 260.25,137.82 260.30,134.72 260.35,129.12 260.40,118.84 260.45,99.83 260.50,64.50 260.50,64.50 260.55,100.44 260.60,119.94 260.65,130.60 260.70,136.49 260.75,139.80 260.80,141.71 260.85,142.65 260.90,142.48 260.95,142.32 261.00,142.15 261.05,141.98 261.10,141.80 261.15,141.63 261.20,141.45 261.25,141.28 261.30,141.10 261.35,140.92 261.40,140.74 261.45,140.55 261.50,140.37 261.55,140.18 261.60,139.99 261.65,139.80 261.70,139.61 261.75,139.41 261.80,139.21 261.85,139.00 261.90,138.78 261.95,138.54 262.00,138.28 262.05,137.95 262.10,137.51 262.15,136.88 262.20,135.89 262.25,134.21 262.30,131.25 262.35,125.92 262.40,116.14 262.45,98.07 262.50,64.50 262.50,64.50 262.55,98.68 262.60,117.24 262.65,127.40 262.70,133.02 262.75,136.19 262.80,138.02 262.85,138.26 262.90,138.08 262.95,137.90 263.00,137.71 263.05,137.69 263.10,137.67 263.15,137.65 263.20,137.62 263.25,137.59 263.30,137.56 263.35,137.52 263.40,137.48 263.45,137.44 263.50,137.38 263.55,137.31 263.60,137.20 263.65,137.03 263.70,136.76 263.75,136.29 263.80,135.44 263.85,133.92 263.90,131.10 263.95,125.89 264.00,116.20 264.05,98.16 264.10,64.50 264.10,64.50 264.15,99.09 264.20,117.95 264.25,128.34 264.30,134.17 264.35,137.52 264.40,139.52 264.45,139.75 264.50,139.73 264.55,139.71 264.60,139.69 264.65,139.66 264.70,139.63 264.75,139.60 264.80,139.57 264.85,139.53 264.90,139.49 264.95,139.44 265.00,139.38 265.05,139.31 265.10,139.20 265.15,139.02 265.20,138.74 265.25,138.26 265.30,137.39 265.35,135.82 265.40,132.93 265.45,127.58 265.50,117.63 265.55,99.08 265.60,64.50 265.60,64.50 265.65,100.01 265.70,119.36 265.75,130.02 265.80,135.98 265.85,139.41 265.90,141.45 265.95,142.06 266.00,142.05 266.05,142.03 266.10,142.01 266.15,141.99 266.20,141.97 266.25,141.94 266.30,141.92 266.35,141.89 266.40,141.86 266.45,141.83 266.50,141.79 266.55,141.75 266.60,141.71 266.65,141.66 266.70,141.60 266.75,141.52 266.80,141.40 266.85,141.23 266.90,140.94 266.95,140.44 267.00,139.55 267.05,137.93 267.10,134.95 267.15,129.44 267.20,119.19 267.25,100.11 267.30,64.50 267.30,64.50 267.35,101.03 267.40,120.92 267.45,131.87 267.50,137.99 267.55,141.50 267.60,143.58 267.65,144.08 267.70,144.06 267.75,144.04 267.80,144.01 267.85,143.99 267.90,143.96 267.95,143.93 268.00,143.90 268.05,143.86 268.10,143.83 268.15,143.78 268.20,143.74 268.25,143.69 268.30,143.62 268.35,143.54 268.40,143.42 268.45,143.24 268.50,142.94 268.55,142.43 268.60,141.51 268.65,139.85 268.70,136.80 268.75,131.14 268.80,120.63 268.85,101.04 268.90,64.50 268.90,64.50 268.95,101.96 269.00,122.35 269.05,133.56 269.10,139.82 269.15,143.40 269.20,145.52 269.25,146.23 269.30,146.21 269.35,146.19 269.40,146.17 269.45,146.14 269.50,146.12 269.55,146.09 269.60,146.06 269.65,146.02 269.70,145.99 269.75,145.95 269.80,145.91 269.85,145.87 269.90,145.82 269.95,145.77 270.00,145.70 270.05,145.62 270.10,145.49 270.15,145.31 270.20,145.00 270.25,144.47 270.30,143.53 270.35,141.83 270.40,138.69 270.45,132.89 270.50,122.10 270.55,101.99 270.60,64.50 270.60,64.50 270.65,102.91 270.70,123.81 270.75,135.29 270.80,141.69 270.85,145.35 270.90,147.51 270.95,148.42 271.00,148.40 271.05,148.38 271.10,148.36 271.15,148.33 271.20,148.31 271.25,148.28 271.30,148.25 271.35,148.22 271.40,148.19 271.45,148.15 271.50,148.11 271.55,148.08 271.60,148.03 271.65,147.99 271.70,147.94 271.75,147.88 271.80,147.81 271.85,147.72 271.90,147.59 271.95,147.40 272.00,147.08 272.05,146.54 272.10,145.57 272.15,143.82 272.20,140.60 272.25,134.65 272.30,123.58 272.35,102.96 272.40,64.50 272.40,64.50 272.45,103.87 272.50,125.28 272.55,137.03 272.60,143.58 272.65,147.31 272.70,149.51 272.75,150.86 272.80,150.89 272.85,150.88 272.90,150.86 272.95,150.84 273.00,150.82 273.05,150.80 273.10,150.77 273.15,150.75 273.20,150.72 273.25,150.69 273.30,150.66 273.35,150.63 273.40,150.60 273.45,150.56 273.50,150.53 273.55,150.49 273.60,150.45 273.65,150.40 273.70,150.35 273.75,150.30 273.80,150.25 273.85,150.19 273.90,150.11 273.95,150.01 274.00,149.88 274.05,149.68 274.10,149.35 274.15,148.79 274.20,147.80 274.25,145.99 274.30,142.69 274.35,136.56 274.40,125.19 274.45,104.01 274.50,64.50 274.50,64.50 274.55,104.91 274.60,126.87 274.65,138.92 274.70,145.62 274.75,149.43 274.80,151.67 274.85,153.04 274.90,153.93 274.95,154.55 275.00,154.99 275.05,155.34 275.10,155.54 275.15,155.56 275.20,155.59 275.25,155.61 275.30,155.63 275.35,155.64 275.40,155.66 275.45,155.68 275.50,155.70 275.55,155.71 275.60,155.73 275.65,155.74 275.70,155.76 275.75,155.77 275.80,155.78 275.85,155.79 275.90,155.80 275.95,155.81 276.00,155.82 276.05,155.82 276.10,155.83 276.15,155.84 276.20,155.84 276.25,155.84 276.30,155.85 276.35,155.85 276.40,155.85 276.45,155.85 276.50,155.84 276.55,155.84 276.60,155.83 276.65,155.83 276.70,155.82 276.75,155.81 276.80,155.80 276.85,155.79 276.90,155.78 276.95,155.77 277.00,155.75 277.05,155.73 277.10,155.72 277.15,155.70 277.20,155.67 277.25,155.65 277.30,155.63 277.35,155.60 277.40,155.57 277.45,155.54 277.50,155.51 277.55,155.48 277.60,155.44 277.65,155.40 277.70,155.36 277.75,155.32 277.80,155.27 277.85,155.22 277.90,155.17 277.95,155.12 278.00,155.05 278.05,154.97 278.10,154.89 278.15,154.80 278.20,154.71 278.25,154.63 278.30,154.53 278.35,154.44 278.40,154.35 278.45,154.25 278.50,154.15 278.55,154.05 278.60,153.94 278.65,153.82 278.70,153.69 278.75,153.54 278.80,153.36 278.85,153.10 278.90,152.71 278.95,152.09 279.00,151.01 279.05,149.11 279.10,145.67 279.15,139.34 279.20,127.61 279.25,105.81 279.30,65.20 279.30,65.20 279.35,106.61 279.40,129.09 279.45,141.38 279.50,148.20 279.55,152.05 279.60,154.28 279.65,155.63 279.70,156.48 279.75,157.05 279.80,157.45 279.85,157.76 279.90,157.99 279.95,158.18 280.00,158.34 280.05,158.47 280.10,158.58 280.15,158.68 280.20,158.76 280.25,158.84 280.30,158.90 280.35,158.95 280.40,158.96 280.45,158.96 280.50,158.95 280.55,158.94 280.60,158.94 280.65,158.93 280.70,158.92 280.75,158.92 280.80,158.91 280.85,158.90 280.90,158.89 280.95,158.89 281.00,158.88 281.05,158.87 281.10,158.86 281.15,158.85 281.20,158.84 281.25,158.83 281.30,158.83 281.35,158.82 281.40,158.81 281.45,158.80 281.50,158.79 281.55,158.78 281.60,158.77 281.65,158.76 281.70,158.75 281.75,158.74 281.80,158.73 281.85,158.71 281.90,158.70 281.95,158.69 282.00,158.68 282.05,158.67 282.10,158.66 282.15,158.64 282.20,158.63 282.25,158.62 282.30,158.60 282.35,158.59 282.40,158.58 282.45,158.56 282.50,158.55 282.55,158.53 282.60,158.52 282.65,158.50 282.70,158.49 282.75,158.47 282.80,158.46 282.85,158.44 282.90,158.42 282.95,158.41 283.00,158.39 283.05,158.37 283.10,158.35 283.15,158.33 283.20,158.32 283.25,158.30 283.30,158.28 283.35,158.26 283.40,158.24 283.45,158.22 283.50,158.20 283.55,158.17 283.60,158.15 283.65,158.13 283.70,158.11 283.75,158.08 283.80,158.06 283.85,158.04 283.90,158.01 283.95,157.99 284.00,157.96 284.05,157.93 284.10,157.91 284.15,157.88 284.20,157.85 284.25,157.83 284.30,157.80 284.35,157.77 284.40,157.74 284.45,157.71 284.50,157.68 284.55,157.65 284.60,157.61 284.65,157.58 284.70,157.55 284.75,157.51 284.80,157.48 284.85,157.44 284.90,157.41 284.95,157.37 285.00,157.33 285.05,157.29 285.10,157.26 285.15,157.22 285.20,157.18 285.25,157.13 285.30,157.09 285.35,157.05 285.40,157.01 285.45,156.96 285.50,156.92 285.55,156.87 285.60,156.82 285.65,156.77 285.70,156.72 285.75,156.67 285.80,156.62 285.85,156.57 285.90,156.52 285.95,156.46 286.00,156.41 286.05,156.35 286.10,156.30 286.15,156.24 286.20,156.18 286.25,156.12 286.30,156.06 286.35,155.99 286.40,155.93 286.45,155.86 286.50,155.80 286.55,155.73 286.60,155.66 286.65,155.59 286.70,155.52 286.75,155.44 286.80,155.37 286.85,155.29 286.90,155.21 286.95,155.14 287.00,155.05 287.05,154.97 287.10,154.89 287.15,154.80 287.20,154.71 287.25,154.63 287.30,154.53 287.35,154.44 287.40,154.35 287.45,154.25 287.50,154.15 287.55,154.05 287.60,153.94 287.65,153.82 287.70,153.69 287.75,153.55 287.80,153.36 287.85,153.10 287.90,152.71 287.95,152.09 288.00,151.02 288.05,149.13 288.10,145.70 288.15,139.40 288.20,127.72 288.25,106.03 288.30,65.60 288.30,65.60 288.35,106.82 288.40,129.20 288.45,141.44 288.50,148.23 288.55,152.06 288.60,154.29 288.65,155.63 288.70,156.48 288.75,157.05 288.80,157.46 288.85,157.76 288.90,157.99 288.95,158.18 289.00,158.34 289.05,158.47 289.10,158.58 289.15,158.68 289.20,158.76 289.25,158.84 289.30,158.90 289.35,158.95 289.40,159.00 289.45,159.04 289.50,159.07 289.55,159.07 289.60,159.06 289.65,159.06 289.70,159.05 289.75,159.05 289.80,159.04 289.85,159.04 289.90,159.03 289.95,159.03 290.00,159.02 290.05,159.02 290.10,159.01 290.15,159.01 290.20,159.00 290.25,159.00 290.30,158.99 290.35,158.98 290.40,158.98 290.45,158.97 290.50,158.96 290.55,158.96 290.60,158.95 290.65,158.94 290.70,158.94 290.75,158.93 290.80,158.92 290.85,158.92 290.90,158.91 290.95,158.90 291.00,158.89 291.05,158.89 291.10,158.88 291.15,158.87 291.20,158.86 291.25,158.85 291.30,158.84 291.35,158.83 291.40,158.83 291.45,158.82 291.50,158.81 291.55,158.80 291.60,158.79 291.65,158.78 291.70,158.77 291.75,158.76 291.80,158.75 291.85,158.74 291.90,158.73 291.95,158.71 292.00,158.70 292.05,158.69 292.10,158.68 292.15,158.67 292.20,158.66 292.25,158.64 292.30,158.63 292.35,158.62 292.40,158.60 292.45,158.59 292.50,158.58 292.55,158.56 292.60,158.55 292.65,158.53 292.70,158.52 292.75,158.50 292.80,158.49 292.85,158.47 292.90,158.46 292.95,158.44 293.00,158.42 293.05,158.41 293.10,158.39 293.15,158.37 293.20,158.35 293.25,158.33 293.30,158.32 293.35,158.30 293.40,158.28 293.45,158.26 293.50,158.24 293.55,158.22 293.60,158.20 293.65,158.17 293.70,158.15 293.75,158.13 293.80,158.11 293.85,158.08 293.90,158.06 293.95,158.04 294.00,158.01 294.05,157.99 294.10,157.96 294.15,157.93 294.20,157.91 294.25,157.88 294.30,157.85 294.35,157.83 294.40,157.80 294.45,157.77 294.50,157.74 294.55,157.71 294.60,157.68 294.65,157.65 294.70,157.61 294.75,157.58 294.80,157.55 294.85,157.51 294.90,157.48 294.95,157.44 295.00,157.41 295.05,157.37 295.10,157.33 295.15,157.29 295.20,157.26 295.25,157.22 295.30,157.18 295.35,157.13 295.40,157.09 295.45,157.05 295.50,157.01 295.55,156.96 295.60,156.92 295.65,156.87 295.70,156.82 295.75,156.77 295.80,156.72 295.85,156.67 295.90,156.62 295.95,156.57 296.00,156.52 296.05,156.46 296.10,156.41 296.15,156.35 296.20,156.30 296.25,156.24 296.30,156.18 296.35,156.12 296.40,156.06 296.45,155.99 296.50,155.93 296.55,155.86 296.60,155.80 296.65,155.73 296.70,155.66 296.75,155.59 296.80,155.52 296.85,155.44 296.90,155.37 296.95,155.29 297.00,155.21 297.05,155.14 297.10,155.05 297.15,154.97 297.20,154.89 297.25,154.80 297.30,154.71 297.35,154.63 297.40,154.53 297.45,154.44 297.50,154.35 297.55,154.25 297.60,154.15 297.65,154.05 297.70,153.94 297.75,153.82 297.80,153.69 297.85,153.55 297.90,153.36 297.95,153.10 298.00,152.72 298.05,152.10 298.10,151.03 298.15,149.15 298.20,145.73 298.25,139.46 298.30,127.84 298.35,106.24 298.40,66.00 298.40,66.00 298.45,107.04 298.50,129.31 298.55,141.51 298.60,148.26 298.65,152.08 298.70,154.30 298.75,155.64 298.80,156.49 298.85,157.05 298.90,157.46 298.95,157.76 299.00,157.99 299.05,158.18 299.10,158.34 299.15,158.47 299.20,158.58 299.25,158.68 299.30,158.76 299.35,158.84 299.40,158.90 299.45,158.95 299.50,159.00 299.55,159.04 299.60,159.07 299.65,159.10 299.70,159.13 299.75,159.14 299.80,159.14 299.85,159.14 299.90,159.13 299.95,159.13 300.00,159.13 300.05,159.12 300.10,159.12 300.15,159.12 300.20,159.11 300.25,159.11 300.30,159.10 300.35,159.10 300.40,159.10 300.45,159.09 300.50,159.09 300.55,159.08 300.60,159.08 300.65,159.08 300.70,159.07 300.75,159.07 300.80,159.06 300.85,159.06 300.90,159.05 300.95,159.05 301.00,159.04 301.05,159.04 301.10,159.03 301.15,159.03 301.20,159.02 301.25,159.02 301.30,159.01 301.35,159.01 301.40,159.00 301.45,159.00 301.50,158.99 301.55,158.98 301.60,158.98 301.65,158.97 301.70,158.96 301.75,158.96 301.80,158.95 301.85,158.94 301.90,158.94 301.95,158.93 302.00,158.92 302.05,158.92 302.10,158.91 302.15,158.90 302.20,158.89 302.25,158.89 302.30,158.88 302.35,158.87 302.40,158.86 302.45,158.85 302.50,158.84 302.55,158.83 302.60,158.83 302.65,158.82 302.70,158.81 302.75,158.80 302.80,158.79 302.85,158.78 302.90,158.77 302.95,158.76 303.00,158.75 303.05,158.74 303.10,158.73 303.15,158.71 303.20,158.70 303.25,158.69 303.30,158.68 303.35,158.67 303.40,158.66 303.45,158.64 303.50,158.63 303.55,158.62 303.60,158.60 303.65,158.59 303.70,158.58 303.75,158.56 303.80,158.55 303.85,158.53 303.90,158.52 303.95,158.50 304.00,158.49 304.05,158.47 304.10,158.46 304.15,158.44 304.20,158.42 304.25,158.41 304.30,158.39 304.35,158.37 304.40,158.35 304.45,158.33 304.50,158.32 304.55,158.30 304.60,158.28 304.65,158.26 304.70,158.24 304.75,158.22 304.80,158.20 304.85,158.17 304.90,158.15 304.95,158.13 305.00,158.11 305.05,158.08 305.10,158.06 305.15,158.04 305.20,158.01 305.25,157.99 305.30,157.96 305.35,157.93 305.40,157.91 305.45,157.88 305.50,157.85 305.55,157.83 305.60,157.80 305.65,157.77 305.70,157.74 305.75,157.71 305.80,157.68 305.85,157.65 305.90,157.61 305.95,157.58 306.00,157.55 306.05,157.51 306.10,157.48 306.15,157.44 306.20,157.41 306.25,157.37 306.30,157.33 306.35,157.29 306.40,157.26 306.45,157.22 306.50,157.18 306.55,157.13 306.60,157.09 306.65,157.05 306.70,157.01 306.75,156.96 306.80,156.92 306.85,156.87 306.90,156.82 306.95,156.77 307.00,156.72 307.05,156.67 307.10,156.62 307.15,156.57 307.20,156.52 307.25,156.46 307.30,156.41 307.35,156.35 307.40,156.30 307.45,156.24 307.50,156.18 307.55,156.12 307.60,156.06 307.65,155.99 307.70,155.93 307.75,155.86 307.80,155.80 307.85,155.73 307.90,155.66 307.95,155.59 308.00,155.52 308.05,155.44 308.10,155.37 308.15,155.29 308.20,155.21 308.25,155.14 308.30,155.05 308.35,154.97 308.40,154.89 308.45,154.80 308.50,154.71 308.55,154.63 308.60,154.53 308.65,154.44 308.70,154.35 308.75,154.25 308.80,154.15 308.85,154.05 308.90,153.94 308.95,153.82 309.00,153.69 309.05,153.55 309.10,153.36 309.15,153.10 309.20,152.71 309.25,152.09 309.30,151.02 309.35,149.13 309.40,145.70 309.45,139.40 309.50,127.72 309.55,106.03 309.60,65.60 309.60,65.60 309.65,106.82 309.70,129.20 309.75,141.44 309.80,148.23 309.85,152.06 309.90,154.29 309.95,155.63 310.00,156.48 310.05,157.05 310.10,157.46 310.15,157.76 310.20,157.99 310.25,158.18 310.30,158.34 310.35,158.47 310.40,158.58 310.45,158.68 310.50,158.76 310.55,158.84 310.60,158.90 310.65,158.95 310.70,159.00 310.75,159.04 310.80,159.07 310.85,159.10 310.90,159.13 310.95,159.15 311.00,159.17 311.05,159.19 311.10,159.20 311.15,159.20 311.20,159.20 311.25,159.20 311.30,159.20 311.35,159.20 311.40,159.19 311.45,159.19 311.50,159.19 311.55,159.19 311.60,159.19 311.65,159.18 311.70,159.18 311.75,159.18 311.80,159.18 311.85,159.17 311.90,159.17 311.95,159.17 312.00,159.17 312.05,159.16 312.10,159.16 312.15,159.16 312.20,159.16 312.25,159.15 312.30,159.15 312.35,159.15 312.40,159.14 312.45,159.14 312.50,159.14 312.55,159.14 312.60,159.13 312.65,159.13 312.70,159.13 312.75,159.12 312.80,159.12 312.85,159.12 312.90,159.11 312.95,159.11 313.00,159.10 313.05,159.10 313.10,159.10 313.15,159.09 313.20,159.09 313.25,159.08 313.30,159.08 313.35,159.08 313.40,159.07 313.45,159.07 313.50,159.06 313.55,159.06 313.60,159.05 313.65,159.05 313.70,159.04 313.75,159.04 313.80,159.03 313.85,159.03 313.90,159.02 313.95,159.02 314.00,159.01 314.05,159.01 314.10,159.00 314.15,159.00 314.20,158.99 314.25,158.98 314.30,158.98 314.35,158.97 314.40,158.96 314.45,158.96 314.50,158.95 314.55,158.94 314.60,158.94 314.65,158.93 314.70,158.92 314.75,158.92 314.80,158.91 314.85,158.90 314.90,158.89 314.95,158.89 315.00,158.88 315.05,158.87 315.10,158.86 315.15,158.85 315.20,158.84 315.25,158.83 315.30,158.83 315.35,158.82 315.40,158.81 315.45,158.80 315.50,158.79 315.55,158.78 315.60,158.77 315.65,158.76 315.70,158.75 315.75,158.74 315.80,158.73 315.85,158.71 315.90,158.70 315.95,158.69 316.00,158.68 316.05,158.67 316.10,158.66 316.15,158.64 316.20,158.63 316.25,158.62 316.30,158.60 316.35,158.59 316.40,158.58 316.45,158.56 316.50,158.55 316.55,158.53 316.60,158.52 316.65,158.50 316.70,158.49 316.75,158.47 316.80,158.46 316.85,158.44 316.90,158.42 316.95,158.41 317.00,158.39 317.05,158.37 317.10,158.35 317.15,158.33 317.20,158.32 317.25,158.30 317.30,158.28 317.35,158.26 317.40,158.24 317.45,158.22 317.50,158.20 317.55,158.17 317.60,158.15 317.65,158.13 317.70,158.11 317.75,158.08 317.80,158.06 317.85,158.04 317.90,158.01 317.95,157.99 318.00,157.96 318.05,157.93 318.10,157.91 318.15,157.88 318.20,157.85 318.25,157.83 318.30,157.80 318.35,157.77 318.40,157.74 318.45,157.71 318.50,157.68 318.55,157.65 318.60,157.61 318.65,157.58 318.70,157.55 318.75,157.51 318.80,157.48 318.85,157.44 318.90,157.41 318.95,157.37 319.00,157.33 319.05,157.29 319.10,157.26 319.15,157.22 319.20,157.18 319.25,157.13 319.30,157.09 319.35,157.05 319.40,157.01 319.45,156.96 319.50,156.92 319.55,156.87 319.60,156.82 319.65,156.77 319.70,156.72 319.75,156.67 319.80,156.62 319.85,156.57 319.90,156.52 319.95,156.46 320.00,156.41 320.05,156.35 320.10,156.30 320.15,156.24 320.20,156.18 320.25,156.12 320.30,156.06 320.35,155.99 320.40,155.93 320.45,155.86 320.50,155.80 320.55,155.73 320.60,155.66 320.65,155.59 320.70,155.52 320.75,155.44 320.80,155.37 320.85,155.29 320.90,155.21 320.95,155.14 321.00,155.05 321.05,154.97 321.10,154.89 321.15,154.80 321.20,154.71 321.25,154.63 321.30,154.53 321.35,154.44 321.40,154.35 321.45,154.25 321.50,154.15 321.55,154.05 321.60,153.94 321.65,153.82 321.70,153.70 321.75,153.55 321.80,153.36 321.85,153.10 321.90,152.72 321.95,152.11 322.00,151.06 322.05,149.19 322.10,145.82 322.15,139.61 322.20,128.13 322.25,106.78 322.30,67.00 322.30,67.00 322.35,107.57 322.40,129.60 322.45,141.66 322.50,148.35 322.55,152.13 322.60,154.32 322.65,155.65 322.70,156.49 322.75,157.06 322.80,157.46 322.85,157.76 322.90,157.99 322.95,158.18 323.00,158.34 323.05,158.47 323.10,158.58 323.15,158.68 323.20,158.76 323.25,158.84 323.30,158.90 323.35,158.95 323.40,159.00 323.45,159.04 323.50,159.07 323.55,159.10 323.60,159.13 323.65,159.15 323.70,159.17 323.75,159.19 323.80,159.19 323.85,159.19 323.90,159.19 323.95,159.18 324.00,159.18 324.05,159.18 324.10,159.18 324.15,159.17 324.20,159.17 324.25,159.17 324.30,159.17 324.35,159.16 324.40,159.16 324.45,159.16 324.50,159.16 324.55,159.15 324.60,159.15 324.65,159.15 324.70,159.14 324.75,159.14 324.80,159.14 324.85,159.14 324.90,159.13 324.95,159.13 325.00,159.13 325.05,159.12 325.10,159.12 325.15,159.12 325.20,159.11 325.25,159.11 325.30,159.10 325.35,159.10 325.40,159.10 325.45,159.09 325.50,159.09 325.55,159.08 325.60,159.08 325.65,159.08 325.70,159.07 325.75,159.07 325.80,159.06 325.85,159.06 325.90,159.05 325.95,159.05 326.00,159.04 326.05,159.04 326.10,159.03 326.15,159.03 326.20,159.02 326.25,159.02 326.30,159.01 326.35,159.01 326.40,159.00 326.45,159.00 326.50,158.99 326.55,158.98 326.60,158.98 326.65,158.97 326.70,158.96 326.75,158.96 326.80,158.95 326.85,158.94 326.90,158.94 326.95,158.93 327.00,158.92 327.05,158.92 327.10,158.91 327.15,158.90 327.20,158.89 327.25,158.89 327.30,158.88 327.35,158.87 327.40,158.86 327.45,158.85 327.50,158.84 327.55,158.83 327.60,158.83 327.65,158.82 327.70,158.81 327.75,158.80 327.80,158.79 327.85,158.78 327.90,158.77 327.95,158.76 328.00,158.75 328.05,158.74 328.10,158.73 328.15,158.71 328.20,158.70 328.25,158.69 328.30,158.68 328.35,158.67 328.40,158.66 328.45,158.64 328.50,158.63 328.55,158.62 328.60,158.60 328.65,158.59 328.70,158.58 328.75,158.56 328.80,158.55 328.85,158.53 328.90,158.52 328.95,158.50 329.00,158.49 329.05,158.47 329.10,158.46 329.15,158.44 329.20,158.42 329.25,158.41 329.30,158.39 329.35,158.37 329.40,158.35 329.45,158.33 329.50,158.32 329.55,158.30 329.60,158.28 329.65,158.26 329.70,158.24 329.75,158.22 329.80,158.20 329.85,158.17 329.90,158.15 329.95,158.13 330.00,158.11 330.05,158.08 330.10,158.06 330.15,158.04 330.20,158.01 330.25,157.99 330.30,157.96 330.35,157.93 330.40,157.91 330.45,157.88 330.50,157.85 330.55,157.83 330.60,157.80 330.65,157.77 330.70,157.74 330.75,157.71 330.80,157.68 330.85,157.65 330.90,157.61 330.95,157.58 331.00,157.55 331.05,157.51 331.10,157.48 331.15,157.44 331.20,157.41 331.25,157.37 331.30,157.33 331.35,157.29 331.40,157.26 331.45,157.22 331.50,157.18 331.55,157.13 331.60,157.09 331.65,157.05 331.70,157.01 331.75,156.96 331.80,156.92 331.85,156.87 331.90,156.82 331.95,156.77 332.00,156.72 332.05,156.67 332.10,156.62 332.15,156.57 332.20,156.52 332.25,156.46 332.30,156.41 332.35,156.35 332.40,156.30 332.45,156.24 332.50,156.18 332.55,156.12 332.60,156.06 332.65,155.99 332.70,155.93 332.75,155.86 332.80,155.80 332.85,155.73 332.90,155.66 332.95,155.59 333.00,155.52 333.05,155.44 333.10,155.37 333.15,155.29 333.20,155.21 333.25,155.14 333.30,155.05 333.35,154.97 333.40,154.89 333.45,154.80 333.50,154.71 333.55,154.63 333.60,154.53 333.65,154.44 333.70,154.35 333.75,154.25 333.80,154.15 333.85,154.05 333.90,153.94 333.95,153.82 334.00,153.70 334.05,153.55 334.10,153.36 334.15,153.11 334.20,152.72 334.25,152.11 334.30,151.06 334.35,149.20 334.40,145.83 334.45,139.64 334.50,128.18 334.55,106.88 334.60,67.20 334.60,67.20 334.65,107.68 334.70,129.66 334.75,141.69 334.80,148.36 334.85,152.13 334.90,154.33 334.95,155.65 335.00,156.49 335.05,157.06 335.10,157.46 335.15,157.76 335.20,157.99 335.25,158.18 335.30,158.34 335.35,158.47 335.40,158.58 335.45,158.68 335.50,158.76 335.55,158.84 335.60,158.90 335.65,158.95 335.70,159.00 335.75,159.04 335.80,159.07 335.85,159.10 335.90,159.13 335.95,159.15 336.00,159.17 336.05,159.19 336.10,159.20 336.15,159.22 336.20,159.23 336.25,159.24 336.30,159.25 336.35,159.25 336.40,159.26 336.45,159.26 336.50,159.27 336.55,159.23 336.60,159.23 336.65,159.23 336.70,159.23 336.75,159.22 336.80,159.22 336.85,159.22 336.90,159.22 336.95,159.22 337.00,159.22 337.05,159.21 337.10,159.21 337.15,159.21 337.20,159.21 337.25,159.21 337.30,159.21 337.35,159.20 337.40,159.20 337.45,159.20 337.50,159.20 337.55,159.20 337.60,159.19 337.65,159.19 337.70,159.19 337.75,159.19 337.80,159.19 337.85,159.18 337.90,159.18 337.95,159.18 338.00,159.18 338.05,159.17 338.10,159.17 338.15,159.17 338.20,159.17 338.25,159.16 338.30,159.16 338.35,159.16 338.40,159.16 338.45,159.15 338.50,159.15 338.55,159.15 338.60,159.14 338.65,159.14 338.70,159.14 338.75,159.14 338.80,159.13 338.85,159.13 338.90,159.13 338.95,159.12 339.00,159.12 339.05,159.12 339.10,159.11 339.15,159.11 339.20,159.10 339.25,159.10 339.30,159.10 339.35,159.09 339.40,159.09 339.45,159.08 339.50,159.08 339.55,159.08 339.60,159.07 339.65,159.07 339.70,159.06 339.75,159.06 339.80,159.05 339.85,159.05 339.90,159.04 339.95,159.04 340.00,159.03 340.05,159.03 340.10,159.02 340.15,159.02 340.20,159.01 340.25,159.01 340.30,159.00 340.35,159.00 340.40,158.99 340.45,158.98 340.50,158.98 340.55,158.97 340.60,158.96 340.65,158.96 340.70,158.95 340.75,158.94 340.80,158.94 340.85,158.93 340.90,158.92 340.95,158.92 341.00,158.91 341.05,158.90 341.10,158.89 341.15,158.89 341.20,158.88 341.25,158.87 341.30,158.86 341.35,158.85 341.40,158.84 341.45,158.83 341.50,158.83 341.55,158.82 341.60,158.81 341.65,158.80 341.70,158.79 341.75,158.78 341.80,158.77 341.85,158.76 341.90,158.75 341.95,158.74 342.00,158.73 342.05,158.71 342.10,158.70 342.15,158.69 342.20,158.68 342.25,158.67 342.30,158.66 342.35,158.64 342.40,158.63 342.45,158.62 342.50,158.60 342.55,158.59 342.60,158.58 342.65,158.56 342.70,158.55 342.75,158.53 342.80,158.52 342.85,158.50 342.90,158.49 342.95,158.47 343.00,158.46 343.05,158.44 343.10,158.42 343.15,158.41 343.20,158.39 343.25,158.37 343.30,158.35 343.35,158.33 343.40,158.32 343.45,158.30 343.50,158.28 343.55,158.26 343.60,158.24 343.65,158.22 343.70,158.20 343.75,158.17 343.80,158.15 343.85,158.13 343.90,158.11 343.95,158.08 344.00,158.06 344.05,158.04 344.10,158.01 344.15,157.99 344.20,157.96 344.25,157.93 344.30,157.91 344.35,157.88 344.40,157.85 344.45,157.83 344.50,157.80 344.55,157.77 344.60,157.74 344.65,157.71 344.70,157.68 344.75,157.65 344.80,157.61 344.85,157.58 344.90,157.55 344.95,157.51 345.00,157.48 345.05,157.44 345.10,157.41 345.15,157.37 345.20,157.33 345.25,157.29 345.30,157.26 345.35,157.22 345.40,157.18 345.45,157.13 345.50,157.09 345.55,157.05 345.60,157.01 345.65,156.96 345.70,156.92 345.75,156.87 345.80,156.82 345.85,156.77 345.90,156.72 345.95,156.67 346.00,156.62 346.05,156.57 346.10,156.52 346.15,156.46 346.20,156.41 346.25,156.35 346.30,156.30 346.35,156.24 346.40,156.18 346.45,156.12 346.50,156.06 346.55,155.99 346.60,155.93 346.65,155.86 346.70,155.80 346.75,155.73 346.80,155.66 346.85,155.59 346.90,155.52 346.95,155.44 347.00,155.37 347.05,155.29 347.10,155.21 347.15,155.14 347.20,155.05 347.25,154.97 347.30,154.89 347.35,154.80 347.40,154.71 347.45,154.63 347.50,154.53 347.55,154.44 347.60,154.35 347.65,154.25 347.70,154.15 347.75,154.05 347.80,153.94 347.85,153.82 347.90,153.70 347.95,153.55 348.00,153.36 348.05,153.11 348.10,152.72 348.15,152.11 348.20,151.06 348.25,149.20 348.30,145.83 348.35,139.64 348.40,128.18 348.45,106.88 348.50,67.20 348.50,67.20 348.55,107.68 348.60,129.66 348.65,141.69 348.70,148.36 348.75,152.13 348.80,154.33 348.85,155.65 348.90,156.49 348.95,157.06 349.00,157.46 349.05,157.76 349.10,157.99 349.15,158.18 349.20,158.34 349.25,158.47 349.30,158.58 349.35,158.68 349.40,158.76 349.45,158.84 349.50,158.90 349.55,158.95 349.60,159.00 349.65,159.04 349.70,159.07 349.75,159.10 349.80,159.13 349.85,159.15 349.90,159.17 349.95,159.19 350.00,159.20 350.05,159.22 350.10,159.23 350.15,159.24 350.20,159.25 350.25,159.25 350.30,159.26 350.35,159.26 350.40,159.27 350.45,159.27 350.50,159.28 350.55,159.28 350.60,159.28 350.65,159.28 350.70,159.29 350.75,159.29 350.80,159.29 350.85,159.29 350.90,159.29 350.95,159.29 351.00,159.29 351.05,159.30 351.10,159.30 351.15,159.30 351.20,159.30 351.25,159.30 351.30,159.30 351.35,159.30 351.40,159.30 351.45,159.30 351.50,159.30 351.55,159.30 351.60,159.30 351.65,159.30 351.70,159.30 351.75,159.30 351.80,159.30 351.85,159.30 351.90,159.30 351.95,159.30 352.00,159.30 352.05,159.30 352.10,159.30 352.15,159.30 352.20,159.30 352.25,159.30 352.30,159.30 352.35,159.30 352.40,159.30 352.45,159.30 352.50,159.30 352.55,159.30 352.60,159.30 352.65,159.30 352.70,159.30 352.75,159.30 352.80,159.30 352.85,159.30 352.90,159.30 352.95,159.30 353.00,159.30 353.05,159.30 353.10,159.30 353.15,159.30 353.20,159.30 353.25,159.30 353.30,159.30 353.35,159.30 353.40,159.30 353.45,159.30 353.50,159.30 353.55,159.30 353.60,159.30 353.65,159.30 353.70,159.30 353.75,159.30 353.80,159.30 353.85,159.30 353.90,159.30 353.95,159.30 354.00,159.30 354.05,159.30 354.10,159.30 354.15,159.30 354.20,159.30 354.25,159.30 354.30,159.30 354.35,159.30 354.40,159.30 354.45,159.30 354.50,159.30 354.55,159.30 354.60,159.30 354.65,159.30 354.70,159.30 354.75,159.30 354.80,159.30 354.85,159.30 354.90,159.30 354.95,159.30 355.00,159.30 355.05,159.30 355.10,159.30 355.15,159.30 355.20,159.30 355.25,159.30 355.30,159.30 355.35,159.30 355.40,159.30 355.45,159.30 355.50,159.30 355.55,159.30 355.60,159.30" fill="none" stroke="#2323f2" stroke-width="1" stroke-linejoin="round"/>
<rect x="246" y="61" width="39.6" height="99" fill="none" stroke="#6a6a6a" stroke-width="1.1" stroke-dasharray="3,2"/>
<line x1="276.3" y1="165.1" x2="326.3" y2="206.3" stroke="#333" stroke-width="0.7"/>
<polyline points="159.3,96.3 159.3,119.6 183.1,119.6" fill="none" stroke="#333" stroke-width="1"/>
<text x="162.6" y="117.7" font-size="11" text-anchor="start" fill="#231f20" >10 mV</text>
<text x="161.3" y="130.5" font-size="11" text-anchor="start" fill="#231f20" >100 ms</text>
<polyline points="197.4,176.4 197.4,234.3 276.6,234.3" fill="none" stroke="#333" stroke-width="0.8"/>
<text x="195.6" y="235.3" font-size="8.2" text-anchor="end" fill="#231f20" >40</text>
<line x1="197.4" y1="232.4" x2="199" y2="232.4" stroke="#333" stroke-width="0.6"/>
<text x="195.6" y="221.8" font-size="8.2" text-anchor="end" fill="#231f20" >80</text>
<line x1="197.4" y1="218.9" x2="199" y2="218.9" stroke="#333" stroke-width="0.6"/>
<text x="195.6" y="208.3" font-size="8.2" text-anchor="end" fill="#231f20" >120</text>
<line x1="197.4" y1="205.4" x2="199" y2="205.4" stroke="#333" stroke-width="0.6"/>
<text x="195.6" y="194.8" font-size="8.2" text-anchor="end" fill="#231f20" >160</text>
<line x1="197.4" y1="191.9" x2="199" y2="191.9" stroke="#333" stroke-width="0.6"/>
<text x="195.6" y="181.3" font-size="8.2" text-anchor="end" fill="#231f20" >200</text>
<line x1="197.4" y1="178.4" x2="199" y2="178.4" stroke="#333" stroke-width="0.6"/>
<text x="207.0" y="244.2" font-size="8.2" text-anchor="middle" fill="#231f20" >0</text>
<line x1="207.0" y1="234.3" x2="207.0" y2="236" stroke="#333" stroke-width="0.6"/>
<text x="222.525" y="244.2" font-size="8.2" text-anchor="middle" fill="#231f20" >5</text>
<line x1="222.5" y1="234.3" x2="222.5" y2="236" stroke="#333" stroke-width="0.6"/>
<text x="238.05" y="244.2" font-size="8.2" text-anchor="middle" fill="#231f20" >10</text>
<line x1="238.1" y1="234.3" x2="238.1" y2="236" stroke="#333" stroke-width="0.6"/>
<text x="253.575" y="244.2" font-size="8.2" text-anchor="middle" fill="#231f20" >15</text>
<line x1="253.6" y1="234.3" x2="253.6" y2="236" stroke="#333" stroke-width="0.6"/>
<text x="269.1" y="244.2" font-size="8.2" text-anchor="middle" fill="#231f20" >20</text>
<line x1="269.1" y1="234.3" x2="269.1" y2="236" stroke="#333" stroke-width="0.6"/>
<text x="238" y="255" font-size="8.2" text-anchor="middle" fill="#231f20" ># PF synapses</text>
<text transform="translate(175,204) rotate(-90)" font-size="8.2" text-anchor="middle" fill="#231f20">Burst Freq (Hz)</text>
<polyline points="209.00,227.90 215.00,214.10 221.60,210.60 237.50,200.40 253.00,193.50 269.10,183.40" fill="none" stroke="#3333ff" stroke-width="1"/>
<circle cx="209" cy="227.9" r="1.8" fill="#10108a"/>
<circle cx="215" cy="214.1" r="1.8" fill="#10108a"/>
<circle cx="221.6" cy="210.6" r="1.8" fill="#10108a"/>
<circle cx="237.5" cy="200.4" r="1.8" fill="#10108a"/>
<circle cx="253" cy="193.5" r="1.8" fill="#10108a"/>
<circle cx="269.1" cy="183.4" r="1.8" fill="#10108a"/>
<rect x="326.4" y="184.5" width="39.6" height="101.7" fill="none" stroke="#555" stroke-width="1" stroke-dasharray="3,2"/>
<line x1="327" y1="191.6" x2="366" y2="191.6" stroke="#3344ee" stroke-width="1.2"/>
<defs><linearGradient id="cg" x1="0" y1="0" x2="0" y2="1"><stop offset="0" stop-color="#2a2ae8"/><stop offset="1" stop-color="#5a6af4"/></linearGradient></defs>
<polygon points="334.60,191.60 352.30,191.60 352.30,248.40 344.00,248.80 340.50,251.50 338.80,256.00 338.00,265.00 337.40,282.00 336.80,282.00 336.30,262.00 335.60,228.00 334.80,226.00 334.60,191.60" fill="url(#cg)"/>
<line x1="338.5" y1="193" x2="338.5" y2="249" stroke="#6677ff" stroke-width="0.3"/>
<line x1="339.9" y1="193" x2="339.9" y2="249" stroke="#6677ff" stroke-width="0.3"/>
<line x1="341.3" y1="193" x2="341.3" y2="249" stroke="#6677ff" stroke-width="0.3"/>
<line x1="342.7" y1="193" x2="342.7" y2="249" stroke="#6677ff" stroke-width="0.3"/>
<line x1="344.1" y1="193" x2="344.1" y2="249" stroke="#6677ff" stroke-width="0.3"/>
<line x1="345.5" y1="193" x2="345.5" y2="249" stroke="#6677ff" stroke-width="0.3"/>
<line x1="346.9" y1="193" x2="346.9" y2="249" stroke="#6677ff" stroke-width="0.3"/>
<line x1="348.3" y1="193" x2="348.3" y2="249" stroke="#6677ff" stroke-width="0.3"/>
<line x1="349.7" y1="193" x2="349.7" y2="249" stroke="#6677ff" stroke-width="0.3"/>
<line x1="351.1" y1="193" x2="351.1" y2="249" stroke="#6677ff" stroke-width="0.3"/>
<polyline points="369.8,210.5 369.8,222.5 382.3,222.5" fill="none" stroke="#333" stroke-width="1"/>
<text x="371.8" y="220.2" font-size="11" text-anchor="start" fill="#231f20" >20 pA</text>
<text x="371.6" y="234.3" font-size="11" text-anchor="start" fill="#231f20" >500 ms</text>
<text x="441.6" y="24.8" font-size="34.6" text-anchor="start" fill="#231f20" >B</text>
<text x="576.9" y="37.5" font-size="14.2" text-anchor="start" fill="#231f20" >100 Hz</text>
<line x1="528.6" y1="60.1" x2="528.6" y2="167.8" stroke="#222" stroke-width="1"/>
<line x1="526.2" y1="167.40" x2="528.6" y2="167.40" stroke="#222" stroke-width="0.8"/>
<line x1="527.3" y1="162.05" x2="528.6" y2="162.05" stroke="#222" stroke-width="0.8"/>
<line x1="527.3" y1="156.70" x2="528.6" y2="156.70" stroke="#222" stroke-width="0.8"/>
<line x1="527.3" y1="151.35" x2="528.6" y2="151.35" stroke="#222" stroke-width="0.8"/>
<line x1="526.2" y1="146.00" x2="528.6" y2="146.00" stroke="#222" stroke-width="0.8"/>
<line x1="527.3" y1="140.65" x2="528.6" y2="140.65" stroke="#222" stroke-width="0.8"/>
<line x1="527.3" y1="135.30" x2="528.6" y2="135.30" stroke="#222" stroke-width="0.8"/>
<line x1="527.3" y1="129.95" x2="528.6" y2="129.95" stroke="#222" stroke-width="0.8"/>
<line x1="526.2" y1="124.60" x2="528.6" y2="124.60" stroke="#222" stroke-width="0.8"/>
<line x1="527.3" y1="119.25" x2="528.6" y2="119.25" stroke="#222" stroke-width="0.8"/>
<line x1="527.3" y1="113.90" x2="528.6" y2="113.90" stroke="#222" stroke-width="0.8"/>
<line x1="527.3" y1="108.55" x2="528.6" y2="108.55" stroke="#222" stroke-width="0.8"/>
<line x1="526.2" y1="103.20" x2="528.6" y2="103.20" stroke="#222" stroke-width="0.8"/>
<line x1="527.3" y1="97.85" x2="528.6" y2="97.85" stroke="#222" stroke-width="0.8"/>
<line x1="527.3" y1="92.50" x2="528.6" y2="92.50" stroke="#222" stroke-width="0.8"/>
<line x1="527.3" y1="87.15" x2="528.6" y2="87.15" stroke="#222" stroke-width="0.8"/>
<line x1="526.2" y1="81.80" x2="528.6" y2="81.80" stroke="#222" stroke-width="0.8"/>
<line x1="527.3" y1="76.45" x2="528.6" y2="76.45" stroke="#222" stroke-width="0.8"/>
<line x1="527.3" y1="71.10" x2="528.6" y2="71.10" stroke="#222" stroke-width="0.8"/>
<line x1="527.3" y1="65.75" x2="528.6" y2="65.75" stroke="#222" stroke-width="0.8"/>
<line x1="526.2" y1="60.40" x2="528.6" y2="60.40" stroke="#222" stroke-width="0.8"/>
<text x="523.0" y="64.30000000000001" font-size="11" text-anchor="end" fill="#231f20" >400</text>
<text x="523.0" y="85.7" font-size="11" text-anchor="end" fill="#231f20" >300</text>
<text x="523.0" y="107.10000000000001" font-size="11" text-anchor="end" fill="#231f20" >200</text>
<text x="523.0" y="128.5" font-size="11" text-anchor="end" fill="#231f20" >100</text>
<text x="523.0" y="149.9" font-size="11" text-anchor="end" fill="#231f20" >0</text>
<text x="523.0" y="171.3" font-size="11" text-anchor="end" fill="#231f20" >-100</text>
<line x1="627.0" y1="75.2" x2="627.0" y2="100" stroke="#999" stroke-width="0.8"/>
<line x1="625.4" y1="75.2" x2="628.6" y2="75.2" stroke="#999" stroke-width="0.8"/>
<line x1="625.4" y1="100" x2="628.6" y2="100" stroke="#999" stroke-width="0.8"/>
<line x1="663.5" y1="65.3" x2="663.5" y2="90" stroke="#333" stroke-width="0.8"/>
<line x1="661.9" y1="65.3" x2="665.1" y2="65.3" stroke="#333" stroke-width="0.8"/>
<line x1="661.9" y1="90" x2="665.1" y2="90" stroke="#333" stroke-width="0.8"/>
<rect x="532.3" y="146.00" width="14.80" height="5.35" fill="#0000ff" stroke="#111" stroke-width="0.4"/>
<rect x="547.1" y="144.29" width="14.60" height="1.71" fill="#000" stroke="#111" stroke-width="0.4"/>
<rect x="568.8" y="141.93" width="14.60" height="4.07" fill="#0000ff" stroke="#111" stroke-width="0.4"/>
<rect x="583.4" y="146.00" width="14.30" height="2.14" fill="#000" stroke="#111" stroke-width="0.4"/>
<rect x="605.2" y="91.43" width="14.50" height="54.57" fill="#0000ff" stroke="#111" stroke-width="0.4"/>
<rect x="619.7" y="91.00" width="14.50" height="55.00" fill="#000" stroke="#111" stroke-width="0.4"/>
<rect x="641.5" y="99.99" width="14.50" height="46.01" fill="#0000ff" stroke="#111" stroke-width="0.4"/>
<rect x="656.0" y="81.37" width="14.70" height="64.63" fill="#000" stroke="#111" stroke-width="0.4"/>
<line x1="554.2" y1="139.1" x2="554.2" y2="149.3" stroke="#333" stroke-width="0.8"/>
<line x1="552.6" y1="139.1" x2="555.8000000000001" y2="139.1" stroke="#333" stroke-width="0.8"/>
<line x1="552.6" y1="149.3" x2="555.8000000000001" y2="149.3" stroke="#333" stroke-width="0.8"/>
<line x1="576.1" y1="126.9" x2="576.1" y2="157.2" stroke="#999" stroke-width="0.8"/>
<line x1="574.5" y1="126.9" x2="577.7" y2="126.9" stroke="#999" stroke-width="0.8"/>
<line x1="574.5" y1="157.2" x2="577.7" y2="157.2" stroke="#999" stroke-width="0.8"/>
<line x1="590.7" y1="132.3" x2="590.7" y2="163.9" stroke="#333" stroke-width="0.8"/>
<line x1="589.1" y1="132.3" x2="592.3000000000001" y2="132.3" stroke="#333" stroke-width="0.8"/>
<line x1="589.1" y1="163.9" x2="592.3000000000001" y2="163.9" stroke="#333" stroke-width="0.8"/>
<line x1="612.4" y1="84.7" x2="612.4" y2="98.7" stroke="#333" stroke-width="0.8"/>
<line x1="610.8" y1="84.7" x2="614.0" y2="84.7" stroke="#333" stroke-width="0.8"/>
<line x1="610.8" y1="98.7" x2="614.0" y2="98.7" stroke="#333" stroke-width="0.8"/>
<line x1="648.7" y1="93.1" x2="648.7" y2="106.7" stroke="#333" stroke-width="0.8"/>
<line x1="647.1" y1="93.1" x2="650.3000000000001" y2="93.1" stroke="#333" stroke-width="0.8"/>
<line x1="647.1" y1="106.7" x2="650.3000000000001" y2="106.7" stroke="#333" stroke-width="0.8"/>
<line x1="539.6" y1="146.5" x2="539.6" y2="155.5" stroke="#333" stroke-width="0.8"/>
<line x1="538.0" y1="146.5" x2="541.2" y2="146.5" stroke="#333" stroke-width="0.8"/>
<line x1="538.0" y1="155.5" x2="541.2" y2="155.5" stroke="#333" stroke-width="0.8"/>
<line x1="528.6" y1="146" x2="674.4" y2="146" stroke="#555" stroke-width="0.8"/>
<line x1="546.8" y1="146" x2="546.8" y2="148" stroke="#333" stroke-width="0.6"/>
<line x1="565.5" y1="146" x2="565.5" y2="148" stroke="#333" stroke-width="0.6"/>
<line x1="583.5" y1="146" x2="583.5" y2="148" stroke="#333" stroke-width="0.6"/>
<line x1="601.6" y1="146" x2="601.6" y2="148" stroke="#333" stroke-width="0.6"/>
<line x1="619.7" y1="146" x2="619.7" y2="148" stroke="#333" stroke-width="0.6"/>
<line x1="638" y1="146" x2="638" y2="148" stroke="#333" stroke-width="0.6"/>
<line x1="656" y1="146" x2="656" y2="148" stroke="#333" stroke-width="0.6"/>
<line x1="674.4" y1="146" x2="674.4" y2="148" stroke="#333" stroke-width="0.6"/>
<text transform="translate(550.6,168) rotate(45)" font-size="10.3" fill="#231f20" text-anchor="middle" dominant-baseline="central">-40-0</text>
<text transform="translate(588.4,167) rotate(45)" font-size="10.3" fill="#231f20" text-anchor="middle" dominant-baseline="central">0-40</text>
<text transform="translate(626.2,168) rotate(45)" font-size="10.3" fill="#231f20" text-anchor="middle" dominant-baseline="central">40-80</text>
<text transform="translate(662.3,167.5) rotate(45)" font-size="10.3" fill="#231f20" text-anchor="middle" dominant-baseline="central">80-120</text>
<line x1="565.5" y1="159" x2="565.5" y2="184" stroke="#111" stroke-width="1"/>
<polygon points="565.5,152.5 561.8,160.8 569.2,160.8" fill="#111"/>
<text x="557.2" y="195.6" font-size="11" text-anchor="start" fill="#231f20" >stim</text>
<text x="620.8" y="194.6" font-size="13.8" text-anchor="start" fill="#231f20" >Time (ms)</text>
<text transform="translate(495.9,174.2) rotate(-90)" font-size="13.9" fill="#231f20">Freq<tspan font-size="8.2" dy="3">burst</tspan><tspan dy="-3"> (% change)</tspan></text>
<text x="0.4" y="327.6" font-size="34.6" text-anchor="start" fill="#231f20" >C</text>
<polygon points="25.60,483.00 262.20,388.40 262.20,317.40 25.60,412.00" fill="#fff" stroke="none"/>
<line x1="25.6" y1="462.8" x2="262.2" y2="368.2" stroke="#ececec" stroke-width="0.6"/>
<line x1="262.2" y1="368.2" x2="357.2" y2="379.6" stroke="#ececec" stroke-width="0.6"/>
<line x1="25.6" y1="442.6" x2="262.2" y2="348.0" stroke="#ececec" stroke-width="0.6"/>
<line x1="262.2" y1="348.0" x2="357.2" y2="359.4" stroke="#ececec" stroke-width="0.6"/>
<line x1="25.6" y1="422.4" x2="262.2" y2="327.8" stroke="#ececec" stroke-width="0.6"/>
<line x1="262.2" y1="327.8" x2="357.2" y2="339.2" stroke="#ececec" stroke-width="0.6"/>
<line x1="51.9" y1="472.5" x2="51.9" y2="401.5" stroke="#efefef" stroke-width="0.6"/>
<line x1="78.2" y1="462.0" x2="78.2" y2="391.0" stroke="#efefef" stroke-width="0.6"/>
<line x1="104.5" y1="451.5" x2="104.5" y2="380.5" stroke="#efefef" stroke-width="0.6"/>
<line x1="130.8" y1="441.0" x2="130.8" y2="370.0" stroke="#efefef" stroke-width="0.6"/>
<line x1="157.0" y1="430.4" x2="157.0" y2="359.4" stroke="#efefef" stroke-width="0.6"/>
<line x1="183.3" y1="419.9" x2="183.3" y2="348.9" stroke="#efefef" stroke-width="0.6"/>
<line x1="209.6" y1="409.4" x2="209.6" y2="338.4" stroke="#efefef" stroke-width="0.6"/>
<line x1="235.9" y1="398.9" x2="235.9" y2="327.9" stroke="#efefef" stroke-width="0.6"/>
<line x1="278.0" y1="390.3" x2="278.0" y2="319.3" stroke="#efefef" stroke-width="0.6"/>
<line x1="293.9" y1="392.2" x2="293.9" y2="321.2" stroke="#efefef" stroke-width="0.6"/>
<line x1="309.7" y1="394.1" x2="309.7" y2="323.1" stroke="#efefef" stroke-width="0.6"/>
<line x1="325.5" y1="396.0" x2="325.5" y2="325.0" stroke="#efefef" stroke-width="0.6"/>
<line x1="341.4" y1="397.9" x2="341.4" y2="326.9" stroke="#efefef" stroke-width="0.6"/>
<polyline points="25.60,483.00 25.60,412.00 262.20,317.40 357.20,329.00" fill="none" stroke="#555" stroke-width="0.7"/>
<line x1="104.5" y1="380.5" x2="104.5" y2="451.5" stroke="#444" stroke-width="0.7"/>
<line x1="183.3" y1="348.9" x2="183.3" y2="419.9" stroke="#444" stroke-width="0.7"/>
<line x1="262.2" y1="317.4" x2="262.2" y2="388.4" stroke="#444" stroke-width="0.7"/>
<line x1="357.2" y1="328.6" x2="357.2" y2="399.8" stroke="#333" stroke-width="0.8"/>
<polyline points="25.60,483.00 117.90,497.00 357.20,399.80" fill="none" stroke="#555" stroke-width="0.7"/>
<line x1="25.6" y1="483.0" x2="262.2" y2="388.4" stroke="#bbb" stroke-width="0.5"/>
<line x1="262.2" y1="388.4" x2="357.2" y2="399.8" stroke="#bbb" stroke-width="0.5"/>
<line x1="357.2" y1="399.8" x2="360.2" y2="399.8" stroke="#333" stroke-width="0.6"/>
<line x1="357.2" y1="394.8" x2="359.0" y2="394.8" stroke="#333" stroke-width="0.6"/>
<line x1="357.2" y1="389.7" x2="359.0" y2="389.7" stroke="#333" stroke-width="0.6"/>
<line x1="357.2" y1="384.7" x2="359.0" y2="384.7" stroke="#333" stroke-width="0.6"/>
<line x1="357.2" y1="379.7" x2="360.2" y2="379.7" stroke="#333" stroke-width="0.6"/>
<line x1="357.2" y1="374.6" x2="359.0" y2="374.6" stroke="#333" stroke-width="0.6"/>
<line x1="357.2" y1="369.6" x2="359.0" y2="369.6" stroke="#333" stroke-width="0.6"/>
<line x1="357.2" y1="364.6" x2="359.0" y2="364.6" stroke="#333" stroke-width="0.6"/>
<line x1="357.2" y1="359.5" x2="360.2" y2="359.5" stroke="#333" stroke-width="0.6"/>
<line x1="357.2" y1="354.5" x2="359.0" y2="354.5" stroke="#333" stroke-width="0.6"/>
<line x1="357.2" y1="349.5" x2="359.0" y2="349.5" stroke="#333" stroke-width="0.6"/>
<line x1="357.2" y1="344.4" x2="359.0" y2="344.4" stroke="#333" stroke-width="0.6"/>
<line x1="357.2" y1="339.4" x2="360.2" y2="339.4" stroke="#333" stroke-width="0.6"/>
<line x1="357.2" y1="334.3" x2="359.0" y2="334.3" stroke="#333" stroke-width="0.6"/>
<line x1="357.2" y1="329.3" x2="359.0" y2="329.3" stroke="#333" stroke-width="0.6"/>
<text x="363.8" y="403.7" font-size="11" text-anchor="start" fill="#231f20" >10</text>
<text x="363.8" y="383.56" font-size="11" text-anchor="start" fill="#231f20" >30</text>
<text x="363.8" y="363.42" font-size="11" text-anchor="start" fill="#231f20" >50</text>
<text x="363.8" y="343.28" font-size="11" text-anchor="start" fill="#231f20" >70</text>
<text transform="translate(391,368.5) rotate(-90)" font-size="13.7" text-anchor="middle" fill="#231f20">Spike Freq (Hz)</text>
<line x1="25.6" y1="483.0" x2="24.4" y2="484.8" stroke="#555" stroke-width="0.5"/>
<line x1="31.4" y1="483.9" x2="30.2" y2="485.7" stroke="#555" stroke-width="0.5"/>
<line x1="37.1" y1="484.8" x2="35.9" y2="486.6" stroke="#555" stroke-width="0.5"/>
<line x1="42.9" y1="485.6" x2="41.7" y2="487.4" stroke="#555" stroke-width="0.5"/>
<line x1="48.7" y1="486.5" x2="47.5" y2="488.3" stroke="#555" stroke-width="0.5"/>
<line x1="54.4" y1="487.4" x2="53.2" y2="489.2" stroke="#555" stroke-width="0.5"/>
<line x1="60.2" y1="488.2" x2="59.0" y2="490.1" stroke="#555" stroke-width="0.5"/>
<line x1="66.0" y1="489.1" x2="64.8" y2="490.9" stroke="#555" stroke-width="0.5"/>
<line x1="71.8" y1="490.0" x2="70.5" y2="491.8" stroke="#555" stroke-width="0.5"/>
<line x1="77.5" y1="490.9" x2="76.3" y2="492.7" stroke="#555" stroke-width="0.5"/>
<line x1="83.3" y1="491.8" x2="82.1" y2="493.6" stroke="#555" stroke-width="0.5"/>
<line x1="89.1" y1="492.6" x2="87.9" y2="494.4" stroke="#555" stroke-width="0.5"/>
<line x1="94.8" y1="493.5" x2="93.6" y2="495.3" stroke="#555" stroke-width="0.5"/>
<line x1="100.6" y1="494.4" x2="99.4" y2="496.2" stroke="#555" stroke-width="0.5"/>
<line x1="106.4" y1="495.2" x2="105.2" y2="497.1" stroke="#555" stroke-width="0.5"/>
<line x1="112.1" y1="496.1" x2="110.9" y2="497.9" stroke="#555" stroke-width="0.5"/>
<line x1="117.9" y1="497.0" x2="116.7" y2="498.8" stroke="#555" stroke-width="0.5"/>
<text transform="translate(26,500.6) rotate(-41)" font-size="10.4" text-anchor="middle" dominant-baseline="central" fill="#231f20">1000</text>
<text transform="translate(47,503.1) rotate(-41)" font-size="10.4" text-anchor="middle" dominant-baseline="central" fill="#231f20">2000</text>
<text transform="translate(71,505.8) rotate(-41)" font-size="10.4" text-anchor="middle" dominant-baseline="central" fill="#231f20">3000</text>
<text transform="translate(94,507.8) rotate(-41)" font-size="10.4" text-anchor="middle" dominant-baseline="central" fill="#231f20">4000</text>
<text transform="translate(25,528.2) rotate(3.5)" font-size="12.9" fill="#231f20">Time (ms)</text>
<text transform="translate(143.0,496.3) rotate(9)" font-size="8.5" fill="#231f20">500 Hz</text>
<text transform="translate(177.1,482.1) rotate(9)" font-size="8.5" fill="#231f20">200 Hz</text>
<text transform="translate(216.5,467.3) rotate(9)" font-size="8.5" fill="#231f20">100 Hz</text>
<text transform="translate(256.0,450.6) rotate(9)" font-size="8.5" fill="#231f20">50 Hz</text>
<text transform="translate(294.0,433.0) rotate(9)" font-size="8.5" fill="#231f20">20 Hz</text>
<text transform="translate(321.1,420.7) rotate(9)" font-size="8.5" fill="#231f20">10 Hz</text>
<text transform="translate(351.2,410.90000000000003) rotate(9)" font-size="8.5" fill="#231f20">4 Hz</text>
<polygon points="249.90,393.20 249.90,364.70 251.78,365.78 252.72,365.74 254.64,377.95 255.67,373.38 257.69,379.04 258.77,374.46 260.99,381.23 262.19,370.65 263.49,383.75 264.18,371.22 267.01,379.42 268.53,372.73 269.29,368.98 269.94,383.36 270.70,373.49 271.54,366.15 272.26,378.27 273.10,373.58 275.13,380.14 276.23,370.51 277.26,372.99 278.15,379.08 279.19,376.34 280.46,377.58 281.54,385.85 282.81,372.52 284.13,377.52 285.27,379.09 286.59,377.51 287.99,364.76 289.18,383.59 290.58,379.01 292.10,377.22 293.40,381.65 294.92,377.82 295.79,365.53 296.53,382.26 297.39,379.78 298.12,381.37 298.74,382.27 299.46,377.76 300.91,387.47 301.69,376.82 302.98,373.62 304.08,386.09 305.37,375.29 306.19,378.54 306.88,387.48 307.69,379.59 309.12,378.75 310.35,385.34 311.78,381.51 313.10,388.80 313.80,381.32 315.13,384.12 316.27,390.54 317.60,380.00 318.75,383.12 319.74,388.32 320.89,380.77 322.39,381.07 323.68,390.94 325.18,380.00 326.59,390.94 327.34,379.63 328.81,391.67 329.60,382.16 332.37,390.52 333.86,380.71 334.57,378.84 335.18,388.97 335.89,383.35 337.48,392.28 338.33,387.02 339.77,393.11 340.55,384.09 342.65,393.16 344.00,382.90 344.00,404.40" fill="#2e9cef" stroke="none"/>
<polyline points="249.90,364.70 251.78,365.78 252.72,365.74 254.64,377.95 255.67,373.38 257.69,379.04 258.77,374.46 260.99,381.23 262.19,370.65 263.49,383.75 264.18,371.22 267.01,379.42 268.53,372.73 269.29,368.98 269.94,383.36 270.70,373.49 271.54,366.15 272.26,378.27 273.10,373.58 275.13,380.14 276.23,370.51 277.26,372.99 278.15,379.08 279.19,376.34 280.46,377.58 281.54,385.85 282.81,372.52 284.13,377.52 285.27,379.09 286.59,377.51 287.99,364.76 289.18,383.59 290.58,379.01 292.10,377.22 293.40,381.65 294.92,377.82 295.79,365.53 296.53,382.26 297.39,379.78 298.12,381.37 298.74,382.27 299.46,377.76 300.91,387.47 301.69,376.82 302.98,373.62 304.08,386.09 305.37,375.29 306.19,378.54 306.88,387.48 307.69,379.59 309.12,378.75 310.35,385.34 311.78,381.51 313.10,388.80 313.80,381.32 315.13,384.12 316.27,390.54 317.60,380.00 318.75,383.12 319.74,388.32 320.89,380.77 322.39,381.07 323.68,390.94 325.18,380.00 326.59,390.94 327.34,379.63 328.81,391.67 329.60,382.16 332.37,390.52 333.86,380.71 334.57,378.84 335.18,388.97 335.89,383.35 337.48,392.28 338.33,387.02 339.77,393.11 340.55,384.09 342.65,393.16 344.00,382.90 344.00,404.40" fill="none" stroke="#151515" stroke-width="0.45" stroke-linejoin="round"/>
<line x1="344.0" y1="404.4" x2="356.0" y2="405.9" stroke="#555" stroke-width="0.5"/>
<polygon points="222.90,403.80 222.90,374.80 224.78,375.89 225.72,381.76 226.53,372.33 227.21,392.35 228.02,382.09 228.80,386.52 229.46,391.33 230.24,381.93 232.91,389.21 234.35,386.91 235.50,380.38 236.49,388.11 237.65,387.58 239.99,390.84 241.25,386.25 243.22,388.60 244.28,384.07 245.55,389.80 246.24,384.07 248.64,390.16 249.94,384.10 251.68,391.06 252.62,384.86 254.48,393.75 255.48,387.18 256.67,388.85 257.69,397.89 258.88,385.97 261.12,393.70 262.33,388.48 264.14,396.30 265.11,387.97 266.50,386.40 267.69,395.70 269.08,389.04 270.14,391.88 271.04,396.19 272.10,393.74 273.57,393.48 274.82,396.36 276.29,389.30 277.09,384.35 277.78,398.56 278.58,391.16 280.02,395.19 281.25,399.17 282.69,390.79 285.21,400.16 286.57,395.75 287.72,395.27 288.71,397.82 289.86,391.91 292.46,402.07 293.86,396.39 294.63,397.90 295.29,401.73 296.06,396.60 297.25,395.58 298.28,398.66 299.47,398.76 300.50,388.45 301.39,405.02 302.42,397.87 304.78,401.01 306.05,397.84 306.68,395.00 307.22,401.30 307.85,400.25 308.69,391.86 309.40,403.92 310.24,396.92 312.46,401.44 313.65,399.25 314.90,395.82 315.97,407.49 317.00,399.93 317.00,415.00" fill="#00008c" stroke="none"/>
<polyline points="222.90,374.80 224.78,375.89 225.72,381.76 226.53,372.33 227.21,392.35 228.02,382.09 228.80,386.52 229.46,391.33 230.24,381.93 232.91,389.21 234.35,386.91 235.50,380.38 236.49,388.11 237.65,387.58 239.99,390.84 241.25,386.25 243.22,388.60 244.28,384.07 245.55,389.80 246.24,384.07 248.64,390.16 249.94,384.10 251.68,391.06 252.62,384.86 254.48,393.75 255.48,387.18 256.67,388.85 257.69,397.89 258.88,385.97 261.12,393.70 262.33,388.48 264.14,396.30 265.11,387.97 266.50,386.40 267.69,395.70 269.08,389.04 270.14,391.88 271.04,396.19 272.10,393.74 273.57,393.48 274.82,396.36 276.29,389.30 277.09,384.35 277.78,398.56 278.58,391.16 280.02,395.19 281.25,399.17 282.69,390.79 285.21,400.16 286.57,395.75 287.72,395.27 288.71,397.82 289.86,391.91 292.46,402.07 293.86,396.39 294.63,397.90 295.29,401.73 296.06,396.60 297.25,395.58 298.28,398.66 299.47,398.76 300.50,388.45 301.39,405.02 302.42,397.87 304.78,401.01 306.05,397.84 306.68,395.00 307.22,401.30 307.85,400.25 308.69,391.86 309.40,403.92 310.24,396.92 312.46,401.44 313.65,399.25 314.90,395.82 315.97,407.49 317.00,399.93 317.00,415.00" fill="none" stroke="#151515" stroke-width="0.45" stroke-linejoin="round"/>
<line x1="317.0" y1="415.0" x2="329.0" y2="416.5" stroke="#555" stroke-width="0.5"/>
<polygon points="196.90,414.60 196.90,384.60 198.73,385.73 199.65,392.72 200.89,384.32 201.95,397.73 203.19,392.91 205.17,402.76 206.24,397.86 208.67,399.24 209.98,396.20 211.23,388.17 212.30,400.07 213.55,394.18 215.29,401.47 216.22,396.15 217.67,400.40 218.91,402.61 220.36,396.55 222.83,406.98 224.17,395.72 226.78,405.31 228.19,396.94 229.50,399.29 230.62,407.29 231.93,399.83 232.60,400.37 233.18,406.80 233.85,403.07 235.01,404.96 235.64,399.15 236.39,404.15 237.04,409.75 237.79,399.28 239.76,406.51 240.83,399.26 242.28,405.43 243.52,410.26 244.97,401.38 246.04,403.56 246.96,408.87 248.03,404.35 250.55,410.40 251.90,405.69 254.43,408.09 255.78,404.51 258.51,412.91 259.98,405.21 261.99,414.59 263.07,406.92 265.79,410.52 267.26,406.30 268.37,410.50 269.32,412.77 270.42,405.81 272.22,414.87 273.19,408.82 274.22,401.50 275.09,411.75 276.12,410.58 277.14,409.95 278.02,412.16 279.05,411.97 280.38,416.70 281.09,410.96 282.59,416.18 283.39,409.53 284.54,407.76 285.53,415.82 286.69,411.14 287.51,406.79 288.22,417.05 288.50,412.04 288.50,425.90" fill="#0000ff" stroke="none"/>
<polyline points="196.90,384.60 198.73,385.73 199.65,392.72 200.89,384.32 201.95,397.73 203.19,392.91 205.17,402.76 206.24,397.86 208.67,399.24 209.98,396.20 211.23,388.17 212.30,400.07 213.55,394.18 215.29,401.47 216.22,396.15 217.67,400.40 218.91,402.61 220.36,396.55 222.83,406.98 224.17,395.72 226.78,405.31 228.19,396.94 229.50,399.29 230.62,407.29 231.93,399.83 232.60,400.37 233.18,406.80 233.85,403.07 235.01,404.96 235.64,399.15 236.39,404.15 237.04,409.75 237.79,399.28 239.76,406.51 240.83,399.26 242.28,405.43 243.52,410.26 244.97,401.38 246.04,403.56 246.96,408.87 248.03,404.35 250.55,410.40 251.90,405.69 254.43,408.09 255.78,404.51 258.51,412.91 259.98,405.21 261.99,414.59 263.07,406.92 265.79,410.52 267.26,406.30 268.37,410.50 269.32,412.77 270.42,405.81 272.22,414.87 273.19,408.82 274.22,401.50 275.09,411.75 276.12,410.58 277.14,409.95 278.02,412.16 279.05,411.97 280.38,416.70 281.09,410.96 282.59,416.18 283.39,409.53 284.54,407.76 285.53,415.82 286.69,411.14 287.51,406.79 288.22,417.05 288.50,412.04 288.50,425.90" fill="none" stroke="#151515" stroke-width="0.45" stroke-linejoin="round"/>
<line x1="288.5" y1="425.9" x2="300.5" y2="427.4" stroke="#555" stroke-width="0.5"/>
<polygon points="157.20,431.20 157.20,401.70 159.06,402.79 159.99,409.98 161.08,398.61 162.01,418.31 163.10,410.28 165.12,418.14 166.21,409.46 167.73,418.07 168.55,409.09 169.45,415.10 170.22,417.48 171.11,413.93 172.53,403.66 173.74,425.13 175.16,413.36 176.45,420.38 177.14,411.97 177.87,417.41 178.49,426.32 179.21,410.49 181.49,427.50 182.72,413.99 185.07,416.94 187.16,404.55 188.83,387.24 189.25,384.79 189.88,389.86 191.76,412.57 194.27,424.37 196.23,422.74 197.00,427.87 197.91,420.09 199.06,430.95 199.68,422.31 201.57,431.16 202.59,424.45 204.00,426.85 204.76,421.05 207.24,429.00 208.58,423.17 210.39,427.12 211.37,421.82 212.71,423.94 213.86,428.91 215.20,422.46 216.55,424.02 217.70,429.95 219.05,425.12 221.48,430.28 222.78,425.39 223.46,428.10 224.03,432.95 224.70,426.66 226.91,429.61 228.10,425.38 229.31,426.97 230.36,432.63 231.57,425.96 233.36,432.00 234.32,428.89 236.74,432.96 238.04,427.88 239.32,430.15 240.41,435.98 241.69,429.02 242.64,421.92 243.46,434.24 244.41,428.15 246.39,431.97 247.46,430.53 249.67,434.76 250.10,428.24 250.10,441.60" fill="#2e9cef" stroke="none"/>
<polyline points="157.20,401.70 159.06,402.79 159.99,409.98 161.08,398.61 162.01,418.31 163.10,410.28 165.12,418.14 166.21,409.46 167.73,418.07 168.55,409.09 169.45,415.10 170.22,417.48 171.11,413.93 172.53,403.66 173.74,425.13 175.16,413.36 176.45,420.38 177.14,411.97 177.87,417.41 178.49,426.32 179.21,410.49 181.49,427.50 182.72,413.99 185.07,416.94 187.16,404.55 188.83,387.24 189.25,384.79 189.88,389.86 191.76,412.57 194.27,424.37 196.23,422.74 197.00,427.87 197.91,420.09 199.06,430.95 199.68,422.31 201.57,431.16 202.59,424.45 204.00,426.85 204.76,421.05 207.24,429.00 208.58,423.17 210.39,427.12 211.37,421.82 212.71,423.94 213.86,428.91 215.20,422.46 216.55,424.02 217.70,429.95 219.05,425.12 221.48,430.28 222.78,425.39 223.46,428.10 224.03,432.95 224.70,426.66 226.91,429.61 228.10,425.38 229.31,426.97 230.36,432.63 231.57,425.96 233.36,432.00 234.32,428.89 236.74,432.96 238.04,427.88 239.32,430.15 240.41,435.98 241.69,429.02 242.64,421.92 243.46,434.24 244.41,428.15 246.39,431.97 247.46,430.53 249.67,434.76 250.10,428.24 250.10,441.60" fill="none" stroke="#151515" stroke-width="0.45" stroke-linejoin="round"/>
<line x1="250.1" y1="441.6" x2="262.1" y2="443.1" stroke="#555" stroke-width="0.5"/>
<polygon points="119.40,446.50 119.40,416.50 121.27,417.61 122.21,424.42 123.42,434.74 124.07,423.41 124.84,428.74 125.49,430.96 126.26,424.03 128.11,437.63 129.11,424.96 130.73,438.93 131.60,429.32 132.87,429.30 133.96,441.90 135.23,427.55 136.63,433.64 137.38,424.03 138.68,416.73 139.79,442.44 141.09,428.31 142.53,427.38 143.77,441.34 145.21,427.70 147.23,439.76 148.32,429.63 149.41,432.42 151.10,412.79 151.66,388.05 152.22,412.92 153.90,435.66 154.83,441.79 156.02,435.03 156.74,437.22 157.36,444.98 158.09,435.28 159.23,437.67 160.21,440.53 161.36,438.12 164.12,446.93 165.60,436.93 168.26,445.77 169.69,437.72 171.28,444.59 172.14,439.69 174.36,447.22 175.55,437.09 178.35,449.07 179.86,439.63 180.53,440.02 181.10,448.98 181.77,441.35 182.87,434.04 183.82,446.35 184.93,440.04 186.12,442.21 187.14,448.10 188.33,442.22 190.74,449.97 192.03,439.69 194.54,449.81 195.90,440.01 196.90,442.99 197.75,447.35 198.75,441.49 200.27,442.06 201.57,446.08 203.09,443.97 204.09,442.10 204.95,451.88 205.96,442.68 207.23,448.29 207.92,444.66 209.57,451.56 210.45,444.02 211.67,437.65 212.71,448.88 212.90,444.41 212.90,456.80" fill="#0000ff" stroke="none"/>
<polyline points="119.40,416.50 121.27,417.61 122.21,424.42 123.42,434.74 124.07,423.41 124.84,428.74 125.49,430.96 126.26,424.03 128.11,437.63 129.11,424.96 130.73,438.93 131.60,429.32 132.87,429.30 133.96,441.90 135.23,427.55 136.63,433.64 137.38,424.03 138.68,416.73 139.79,442.44 141.09,428.31 142.53,427.38 143.77,441.34 145.21,427.70 147.23,439.76 148.32,429.63 149.41,432.42 151.10,412.79 151.66,388.05 152.22,412.92 153.90,435.66 154.83,441.79 156.02,435.03 156.74,437.22 157.36,444.98 158.09,435.28 159.23,437.67 160.21,440.53 161.36,438.12 164.12,446.93 165.60,436.93 168.26,445.77 169.69,437.72 171.28,444.59 172.14,439.69 174.36,447.22 175.55,437.09 178.35,449.07 179.86,439.63 180.53,440.02 181.10,448.98 181.77,441.35 182.87,434.04 183.82,446.35 184.93,440.04 186.12,442.21 187.14,448.10 188.33,442.22 190.74,449.97 192.03,439.69 194.54,449.81 195.90,440.01 196.90,442.99 197.75,447.35 198.75,441.49 200.27,442.06 201.57,446.08 203.09,443.97 204.09,442.10 204.95,451.88 205.96,442.68 207.23,448.29 207.92,444.66 209.57,451.56 210.45,444.02 211.67,437.65 212.71,448.88 212.90,444.41 212.90,456.80" fill="none" stroke="#151515" stroke-width="0.45" stroke-linejoin="round"/>
<line x1="212.9" y1="456.8" x2="224.9" y2="458.3" stroke="#555" stroke-width="0.5"/>
<polygon points="78.60,462.50 78.60,433.50 80.48,434.60 81.42,436.39 82.17,441.06 82.81,455.15 83.55,437.34 85.91,447.28 87.18,439.10 88.63,444.33 89.88,454.67 91.34,439.54 93.16,456.00 94.14,443.88 95.09,445.35 95.91,455.06 96.85,441.63 98.33,453.97 99.12,446.31 101.69,452.37 103.08,448.22 104.51,446.85 105.73,455.25 106.93,446.95 108.45,421.22 108.96,391.28 109.47,421.34 110.99,450.47 111.66,461.01 112.33,446.75 113.61,461.49 114.30,448.71 115.50,443.46 116.53,460.80 117.73,451.19 119.25,457.51 120.06,449.35 121.04,452.36 121.88,459.96 122.86,451.16 124.92,457.25 126.03,451.93 127.87,458.18 128.87,451.34 131.39,457.95 132.74,452.91 134.98,459.67 136.18,456.22 137.19,454.89 138.05,458.81 139.05,456.43 140.01,450.43 140.83,464.23 141.80,456.41 143.30,452.72 144.60,462.24 146.11,458.29 147.43,451.64 148.57,463.31 149.90,458.71 151.36,453.85 152.60,466.42 154.05,457.23 155.60,466.83 156.43,459.53 157.22,458.33 157.89,466.57 158.67,458.55 160.75,467.31 161.87,459.71 164.53,465.96 165.97,460.94 167.46,462.62 168.74,464.01 170.24,460.37 171.59,461.66 172.60,458.84 172.75,468.94 172.60,474.20" fill="#00008c" stroke="none"/>
<polyline points="78.60,433.50 80.48,434.60 81.42,436.39 82.17,441.06 82.81,455.15 83.55,437.34 85.91,447.28 87.18,439.10 88.63,444.33 89.88,454.67 91.34,439.54 93.16,456.00 94.14,443.88 95.09,445.35 95.91,455.06 96.85,441.63 98.33,453.97 99.12,446.31 101.69,452.37 103.08,448.22 104.51,446.85 105.73,455.25 106.93,446.95 108.45,421.22 108.96,391.28 109.47,421.34 110.99,450.47 111.66,461.01 112.33,446.75 113.61,461.49 114.30,448.71 115.50,443.46 116.53,460.80 117.73,451.19 119.25,457.51 120.06,449.35 121.04,452.36 121.88,459.96 122.86,451.16 124.92,457.25 126.03,451.93 127.87,458.18 128.87,451.34 131.39,457.95 132.74,452.91 134.98,459.67 136.18,456.22 137.19,454.89 138.05,458.81 139.05,456.43 140.01,450.43 140.83,464.23 141.80,456.41 143.30,452.72 144.60,462.24 146.11,458.29 147.43,451.64 148.57,463.31 149.90,458.71 151.36,453.85 152.60,466.42 154.05,457.23 155.60,466.83 156.43,459.53 157.22,458.33 157.89,466.57 158.67,458.55 160.75,467.31 161.87,459.71 164.53,465.96 165.97,460.94 167.46,462.62 168.74,464.01 170.24,460.37 171.59,461.66 172.60,458.84 172.75,468.94 172.60,474.20" fill="none" stroke="#151515" stroke-width="0.45" stroke-linejoin="round"/>
<line x1="172.6" y1="474.2" x2="184.6" y2="475.7" stroke="#555" stroke-width="0.5"/>
<polygon points="38.80,479.80 38.80,449.80 40.65,450.91 41.58,458.91 42.78,457.33 43.82,469.35 45.02,457.14 47.49,473.14 48.82,460.47 49.57,458.47 50.21,469.84 50.96,460.90 53.16,470.12 54.35,463.46 55.73,467.70 56.47,463.38 59.02,473.78 60.40,461.64 61.65,454.80 62.73,467.66 63.99,463.61 66.11,469.95 66.94,463.69 67.94,438.07 68.28,408.11 68.61,438.14 69.61,467.03 70.06,464.62 71.54,477.21 72.33,467.01 73.69,469.46 74.86,476.66 76.22,468.58 78.14,474.71 79.17,468.48 79.87,467.67 80.47,473.95 81.17,469.20 82.37,462.02 83.40,478.81 84.60,471.54 85.72,468.41 86.68,475.00 87.80,470.60 89.27,478.52 90.07,470.69 91.17,471.69 92.11,476.71 93.20,469.21 94.04,466.09 94.76,475.02 95.60,471.52 97.67,476.27 98.79,473.13 99.48,464.98 100.07,477.47 100.76,469.82 101.53,472.37 102.19,482.23 102.96,473.58 103.77,467.18 104.47,482.64 105.28,472.06 106.72,472.88 107.96,478.07 109.40,473.52 110.76,474.40 111.92,483.94 113.27,471.02 115.07,478.88 116.04,475.93 118.28,482.51 119.49,476.01 121.19,482.56 122.11,473.08 124.09,481.31 125.16,473.18 126.55,482.08 127.30,476.96 129.02,481.27 129.95,474.75 131.50,477.31 132.74,480.91 131.50,490.20" fill="#0000ff" stroke="none"/>
<polyline points="38.80,449.80 40.65,450.91 41.58,458.91 42.78,457.33 43.82,469.35 45.02,457.14 47.49,473.14 48.82,460.47 49.57,458.47 50.21,469.84 50.96,460.90 53.16,470.12 54.35,463.46 55.73,467.70 56.47,463.38 59.02,473.78 60.40,461.64 61.65,454.80 62.73,467.66 63.99,463.61 66.11,469.95 66.94,463.69 67.94,438.07 68.28,408.11 68.61,438.14 69.61,467.03 70.06,464.62 71.54,477.21 72.33,467.01 73.69,469.46 74.86,476.66 76.22,468.58 78.14,474.71 79.17,468.48 79.87,467.67 80.47,473.95 81.17,469.20 82.37,462.02 83.40,478.81 84.60,471.54 85.72,468.41 86.68,475.00 87.80,470.60 89.27,478.52 90.07,470.69 91.17,471.69 92.11,476.71 93.20,469.21 94.04,466.09 94.76,475.02 95.60,471.52 97.67,476.27 98.79,473.13 99.48,464.98 100.07,477.47 100.76,469.82 101.53,472.37 102.19,482.23 102.96,473.58 103.77,467.18 104.47,482.64 105.28,472.06 106.72,472.88 107.96,478.07 109.40,473.52 110.76,474.40 111.92,483.94 113.27,471.02 115.07,478.88 116.04,475.93 118.28,482.51 119.49,476.01 121.19,482.56 122.11,473.08 124.09,481.31 125.16,473.18 126.55,482.08 127.30,476.96 129.02,481.27 129.95,474.75 131.50,477.31 132.74,480.91 131.50,490.20" fill="none" stroke="#151515" stroke-width="0.45" stroke-linejoin="round"/>
<line x1="131.5" y1="490.2" x2="143.5" y2="491.7" stroke="#555" stroke-width="0.5"/>
<text x="439.6" y="326.4" font-size="34.6" text-anchor="start" fill="#231f20" >D</text>
<circle cx="552.6" cy="318.5" r="2.1" fill="#000"/>
<circle cx="552.6" cy="330.9" r="2.1" fill="#0000dd" stroke="#000033" stroke-width="0.3"/>
<polygon points="552.6,342.9 550.2,347.1 555,347.1" fill="#0000aa"/>
<polygon points="552.6,359 550.2,354.8 555,354.8" fill="#1d6b6b"/>
<text x="560.2" y="322.9" font-size="11" text-anchor="start" fill="#231f20" >Exp</text>
<text x="560.2" y="334.6" font-size="11" text-anchor="start" fill="#231f20" >Model D&amp;F</text>
<text x="560.2" y="347.9" font-size="11" text-anchor="start" fill="#231f20" >Model noD&amp;noF</text>
<text x="560.2" y="361.4" font-size="11" text-anchor="start" fill="#231f20" >Model D&amp;noF</text>
<line x1="516.4" y1="369.4" x2="516.4" y2="481.2" stroke="#333" stroke-width="1"/>
<line x1="516" y1="481.2" x2="669.6" y2="481.2" stroke="#999" stroke-width="1.3"/>
<line x1="513.8" y1="480.60" x2="516.4" y2="480.60" stroke="#333" stroke-width="0.7"/>
<line x1="515.0" y1="471.35" x2="516.4" y2="471.35" stroke="#333" stroke-width="0.7"/>
<line x1="513.8" y1="462.10" x2="516.4" y2="462.10" stroke="#333" stroke-width="0.7"/>
<line x1="515.0" y1="452.85" x2="516.4" y2="452.85" stroke="#333" stroke-width="0.7"/>
<line x1="513.8" y1="443.60" x2="516.4" y2="443.60" stroke="#333" stroke-width="0.7"/>
<line x1="515.0" y1="434.35" x2="516.4" y2="434.35" stroke="#333" stroke-width="0.7"/>
<line x1="513.8" y1="425.10" x2="516.4" y2="425.10" stroke="#333" stroke-width="0.7"/>
<line x1="515.0" y1="415.85" x2="516.4" y2="415.85" stroke="#333" stroke-width="0.7"/>
<line x1="513.8" y1="406.60" x2="516.4" y2="406.60" stroke="#333" stroke-width="0.7"/>
<line x1="515.0" y1="397.35" x2="516.4" y2="397.35" stroke="#333" stroke-width="0.7"/>
<line x1="513.8" y1="388.10" x2="516.4" y2="388.10" stroke="#333" stroke-width="0.7"/>
<line x1="515.0" y1="378.85" x2="516.4" y2="378.85" stroke="#333" stroke-width="0.7"/>
<line x1="513.8" y1="369.60" x2="516.4" y2="369.60" stroke="#333" stroke-width="0.7"/>
<text x="510.8" y="373.5" font-size="11" text-anchor="end" fill="#231f20" >3.0</text>
<text x="510.8" y="392.0" font-size="11" text-anchor="end" fill="#231f20" >2.5</text>
<text x="510.8" y="410.5" font-size="11" text-anchor="end" fill="#231f20" >2.0</text>
<text x="510.8" y="429.0" font-size="11" text-anchor="end" fill="#231f20" >1.5</text>
<text x="510.8" y="447.5" font-size="11" text-anchor="end" fill="#231f20" >1.0</text>
<text x="510.8" y="466.0" font-size="11" text-anchor="end" fill="#231f20" >0.5</text>
<text x="496.2" y="485.2" font-size="11" text-anchor="start" fill="#231f20" >0</text>
<line x1="516.00" y1="481" x2="516.00" y2="484" stroke="#333" stroke-width="0.6"/>
<line x1="531.38" y1="481" x2="531.38" y2="482.8" stroke="#333" stroke-width="0.6"/>
<line x1="540.38" y1="481" x2="540.38" y2="482.8" stroke="#333" stroke-width="0.6"/>
<line x1="546.77" y1="481" x2="546.77" y2="482.8" stroke="#333" stroke-width="0.6"/>
<line x1="551.72" y1="481" x2="551.72" y2="482.8" stroke="#333" stroke-width="0.6"/>
<line x1="555.76" y1="481" x2="555.76" y2="482.8" stroke="#333" stroke-width="0.6"/>
<line x1="559.18" y1="481" x2="559.18" y2="482.8" stroke="#333" stroke-width="0.6"/>
<line x1="562.15" y1="481" x2="562.15" y2="482.8" stroke="#333" stroke-width="0.6"/>
<line x1="564.76" y1="481" x2="564.76" y2="482.8" stroke="#333" stroke-width="0.6"/>
<line x1="567.10" y1="481" x2="567.10" y2="484" stroke="#333" stroke-width="0.6"/>
<line x1="582.48" y1="481" x2="582.48" y2="482.8" stroke="#333" stroke-width="0.6"/>
<line x1="591.48" y1="481" x2="591.48" y2="482.8" stroke="#333" stroke-width="0.6"/>
<line x1="597.87" y1="481" x2="597.87" y2="482.8" stroke="#333" stroke-width="0.6"/>
<line x1="602.82" y1="481" x2="602.82" y2="482.8" stroke="#333" stroke-width="0.6"/>
<line x1="606.86" y1="481" x2="606.86" y2="482.8" stroke="#333" stroke-width="0.6"/>
<line x1="610.28" y1="481" x2="610.28" y2="482.8" stroke="#333" stroke-width="0.6"/>
<line x1="613.25" y1="481" x2="613.25" y2="482.8" stroke="#333" stroke-width="0.6"/>
<line x1="615.86" y1="481" x2="615.86" y2="482.8" stroke="#333" stroke-width="0.6"/>
<line x1="618.20" y1="481" x2="618.20" y2="484" stroke="#333" stroke-width="0.6"/>
<line x1="633.58" y1="481" x2="633.58" y2="482.8" stroke="#333" stroke-width="0.6"/>
<line x1="642.58" y1="481" x2="642.58" y2="482.8" stroke="#333" stroke-width="0.6"/>
<line x1="648.97" y1="481" x2="648.97" y2="482.8" stroke="#333" stroke-width="0.6"/>
<line x1="653.92" y1="481" x2="653.92" y2="482.8" stroke="#333" stroke-width="0.6"/>
<line x1="657.96" y1="481" x2="657.96" y2="482.8" stroke="#333" stroke-width="0.6"/>
<line x1="661.38" y1="481" x2="661.38" y2="482.8" stroke="#333" stroke-width="0.6"/>
<line x1="664.35" y1="481" x2="664.35" y2="482.8" stroke="#333" stroke-width="0.6"/>
<line x1="666.96" y1="481" x2="666.96" y2="482.8" stroke="#333" stroke-width="0.6"/>
<line x1="669.30" y1="481" x2="669.30" y2="484" stroke="#333" stroke-width="0.6"/>
<text x="516.0" y="494.5" font-size="11" text-anchor="middle" fill="#231f20" >1</text>
<text x="567.1" y="494.5" font-size="11" text-anchor="middle" fill="#231f20" >10</text>
<text x="618.2" y="494.5" font-size="11" text-anchor="middle" fill="#231f20" >100</text>
<text x="669.3" y="494.5" font-size="11" text-anchor="middle" fill="#231f20" >1000</text>
<text x="605.3" y="515" font-size="13.8" text-anchor="middle" fill="#231f20" >Input frequency (Hz)</text>
<text transform="translate(469.2,417) rotate(-90)" font-size="13.4" text-anchor="middle" fill="#231f20">Output</text>
<text transform="translate(484.8,417) rotate(-90)" font-size="13.4" text-anchor="middle" fill="#231f20">Freq<tspan font-size="8" dy="3">burst</tspan><tspan dy="-3">/Freq</tspan><tspan font-size="8" dy="3">con</tspan></text>
<line x1="546.77" y1="469.57" x2="546.77" y2="476.97" stroke="#444" stroke-width="0.8"/>
<line x1="545.77" y1="469.57" x2="547.77" y2="469.57" stroke="#444" stroke-width="0.8"/>
<line x1="545.77" y1="476.97" x2="547.77" y2="476.97" stroke="#444" stroke-width="0.8"/>
<line x1="546.77" y1="469.57" x2="546.77" y2="476.97" stroke="#444" stroke-width="0.8"/>
<line x1="545.77" y1="469.57" x2="547.77" y2="469.57" stroke="#444" stroke-width="0.8"/>
<line x1="545.77" y1="476.97" x2="547.77" y2="476.97" stroke="#444" stroke-width="0.8"/>
<line x1="546.77" y1="446.78" x2="546.77" y2="453.44" stroke="#555" stroke-width="0.8"/>
<line x1="545.77" y1="446.78" x2="547.77" y2="446.78" stroke="#555" stroke-width="0.8"/>
<line x1="545.77" y1="453.44" x2="547.77" y2="453.44" stroke="#555" stroke-width="0.8"/>
<line x1="567.10" y1="466.58" x2="567.10" y2="476.20" stroke="#444" stroke-width="0.8"/>
<line x1="566.10" y1="466.58" x2="568.10" y2="466.58" stroke="#444" stroke-width="0.8"/>
<line x1="566.10" y1="476.20" x2="568.10" y2="476.20" stroke="#444" stroke-width="0.8"/>
<line x1="567.10" y1="466.58" x2="567.10" y2="476.20" stroke="#444" stroke-width="0.8"/>
<line x1="566.10" y1="466.58" x2="568.10" y2="466.58" stroke="#444" stroke-width="0.8"/>
<line x1="566.10" y1="476.20" x2="568.10" y2="476.20" stroke="#444" stroke-width="0.8"/>
<line x1="567.10" y1="439.16" x2="567.10" y2="447.67" stroke="#555" stroke-width="0.8"/>
<line x1="566.10" y1="439.16" x2="568.10" y2="439.16" stroke="#555" stroke-width="0.8"/>
<line x1="566.10" y1="447.67" x2="568.10" y2="447.67" stroke="#555" stroke-width="0.8"/>
<line x1="582.48" y1="466.91" x2="582.48" y2="476.90" stroke="#444" stroke-width="0.8"/>
<line x1="581.48" y1="466.91" x2="583.48" y2="466.91" stroke="#444" stroke-width="0.8"/>
<line x1="581.48" y1="476.90" x2="583.48" y2="476.90" stroke="#444" stroke-width="0.8"/>
<line x1="582.48" y1="466.91" x2="582.48" y2="476.90" stroke="#444" stroke-width="0.8"/>
<line x1="581.48" y1="466.91" x2="583.48" y2="466.91" stroke="#444" stroke-width="0.8"/>
<line x1="581.48" y1="476.90" x2="583.48" y2="476.90" stroke="#444" stroke-width="0.8"/>
<line x1="582.48" y1="425.54" x2="582.48" y2="438.86" stroke="#555" stroke-width="0.8"/>
<line x1="581.48" y1="425.54" x2="583.48" y2="425.54" stroke="#555" stroke-width="0.8"/>
<line x1="581.48" y1="438.86" x2="583.48" y2="438.86" stroke="#555" stroke-width="0.8"/>
<line x1="602.82" y1="458.25" x2="602.82" y2="476.75" stroke="#444" stroke-width="0.8"/>
<line x1="601.82" y1="458.25" x2="603.82" y2="458.25" stroke="#444" stroke-width="0.8"/>
<line x1="601.82" y1="476.75" x2="603.82" y2="476.75" stroke="#444" stroke-width="0.8"/>
<line x1="602.82" y1="457.59" x2="602.82" y2="469.43" stroke="#444" stroke-width="0.8"/>
<line x1="601.82" y1="457.59" x2="603.82" y2="457.59" stroke="#444" stroke-width="0.8"/>
<line x1="601.82" y1="469.43" x2="603.82" y2="469.43" stroke="#444" stroke-width="0.8"/>
<line x1="602.82" y1="407.04" x2="602.82" y2="422.58" stroke="#555" stroke-width="0.8"/>
<line x1="601.82" y1="407.04" x2="603.82" y2="407.04" stroke="#555" stroke-width="0.8"/>
<line x1="601.82" y1="422.58" x2="603.82" y2="422.58" stroke="#555" stroke-width="0.8"/>
<line x1="618.20" y1="445.45" x2="618.20" y2="469.13" stroke="#444" stroke-width="0.8"/>
<line x1="617.20" y1="445.45" x2="619.20" y2="445.45" stroke="#444" stroke-width="0.8"/>
<line x1="617.20" y1="469.13" x2="619.20" y2="469.13" stroke="#444" stroke-width="0.8"/>
<line x1="618.20" y1="456.96" x2="618.20" y2="473.24" stroke="#444" stroke-width="0.8"/>
<line x1="617.20" y1="456.96" x2="619.20" y2="456.96" stroke="#444" stroke-width="0.8"/>
<line x1="617.20" y1="473.24" x2="619.20" y2="473.24" stroke="#444" stroke-width="0.8"/>
<line x1="618.20" y1="383.88" x2="618.20" y2="413.48" stroke="#555" stroke-width="0.8"/>
<line x1="617.20" y1="383.88" x2="619.20" y2="383.88" stroke="#555" stroke-width="0.8"/>
<line x1="617.20" y1="413.48" x2="619.20" y2="413.48" stroke="#555" stroke-width="0.8"/>
<line x1="633.58" y1="444.60" x2="633.58" y2="469.02" stroke="#444" stroke-width="0.8"/>
<line x1="632.58" y1="444.60" x2="634.58" y2="444.60" stroke="#444" stroke-width="0.8"/>
<line x1="632.58" y1="469.02" x2="634.58" y2="469.02" stroke="#444" stroke-width="0.8"/>
<line x1="633.58" y1="456.96" x2="633.58" y2="473.24" stroke="#444" stroke-width="0.8"/>
<line x1="632.58" y1="456.96" x2="634.58" y2="456.96" stroke="#444" stroke-width="0.8"/>
<line x1="632.58" y1="473.24" x2="634.58" y2="473.24" stroke="#444" stroke-width="0.8"/>
<line x1="633.58" y1="369.71" x2="633.58" y2="409.67" stroke="#555" stroke-width="0.8"/>
<line x1="632.58" y1="369.71" x2="634.58" y2="369.71" stroke="#555" stroke-width="0.8"/>
<line x1="632.58" y1="409.67" x2="634.58" y2="409.67" stroke="#555" stroke-width="0.8"/>
<line x1="653.92" y1="464.06" x2="653.92" y2="475.16" stroke="#444" stroke-width="0.8"/>
<line x1="652.92" y1="464.06" x2="654.92" y2="464.06" stroke="#444" stroke-width="0.8"/>
<line x1="652.92" y1="475.16" x2="654.92" y2="475.16" stroke="#444" stroke-width="0.8"/>
<line x1="653.92" y1="464.06" x2="653.92" y2="475.16" stroke="#444" stroke-width="0.8"/>
<line x1="652.92" y1="464.06" x2="654.92" y2="464.06" stroke="#444" stroke-width="0.8"/>
<line x1="652.92" y1="475.16" x2="654.92" y2="475.16" stroke="#444" stroke-width="0.8"/>
<line x1="653.92" y1="374.37" x2="653.92" y2="401.01" stroke="#555" stroke-width="0.8"/>
<line x1="652.92" y1="374.37" x2="654.92" y2="374.37" stroke="#555" stroke-width="0.8"/>
<line x1="652.92" y1="401.01" x2="654.92" y2="401.01" stroke="#555" stroke-width="0.8"/>
<polyline points="546.77,473.27 567.10,471.39 582.48,471.91 602.82,467.50 618.20,457.29 633.58,456.81 653.92,469.61" fill="none" stroke="#222" stroke-width="0.8"/>
<polyline points="546.77,473.27 567.10,471.39 582.48,471.91 602.82,463.51 618.20,465.10 633.58,465.10 653.92,469.61" fill="none" stroke="#222" stroke-width="0.8"/>
<polyline points="546.77,450.11 567.10,443.42 582.48,432.20 602.82,414.81 618.20,398.68 633.58,389.69 653.92,387.69" fill="none" stroke="#222" stroke-width="0.8"/>
<polygon points="546.77,470.67 544.37,474.87 549.17,474.87" fill="#0000b0" stroke="#000" stroke-width="0.3"/>
<polygon points="546.77,475.87 544.37,471.67 549.17,471.67" fill="#1d6b6b" stroke="#000" stroke-width="0.3"/>
<circle cx="546.77" cy="450.11" r="2.3" fill="#0000e0" stroke="#000020" stroke-width="0.4"/>
<polygon points="567.10,468.79 564.70,472.99 569.50,472.99" fill="#0000b0" stroke="#000" stroke-width="0.3"/>
<polygon points="567.10,473.99 564.70,469.79 569.50,469.79" fill="#1d6b6b" stroke="#000" stroke-width="0.3"/>
<circle cx="567.10" cy="443.42" r="2.3" fill="#0000e0" stroke="#000020" stroke-width="0.4"/>
<polygon points="582.48,469.31 580.08,473.51 584.88,473.51" fill="#0000b0" stroke="#000" stroke-width="0.3"/>
<polygon points="582.48,474.51 580.08,470.31 584.88,470.31" fill="#1d6b6b" stroke="#000" stroke-width="0.3"/>
<circle cx="582.48" cy="432.20" r="2.3" fill="#0000e0" stroke="#000020" stroke-width="0.4"/>
<polygon points="602.82,464.90 600.42,469.10 605.22,469.10" fill="#0000b0" stroke="#000" stroke-width="0.3"/>
<polygon points="602.82,466.11 600.42,461.91 605.22,461.91" fill="#1d6b6b" stroke="#000" stroke-width="0.3"/>
<circle cx="602.82" cy="414.81" r="2.3" fill="#0000e0" stroke="#000020" stroke-width="0.4"/>
<polygon points="618.20,454.69 615.80,458.89 620.60,458.89" fill="#0000b0" stroke="#000" stroke-width="0.3"/>
<polygon points="618.20,467.70 615.80,463.50 620.60,463.50" fill="#1d6b6b" stroke="#000" stroke-width="0.3"/>
<circle cx="618.20" cy="398.68" r="2.3" fill="#0000e0" stroke="#000020" stroke-width="0.4"/>
<polygon points="633.58,454.21 631.18,458.41 635.98,458.41" fill="#0000b0" stroke="#000" stroke-width="0.3"/>
<polygon points="633.58,467.70 631.18,463.50 635.98,463.50" fill="#1d6b6b" stroke="#000" stroke-width="0.3"/>
<circle cx="633.58" cy="389.69" r="2.3" fill="#0000e0" stroke="#000020" stroke-width="0.4"/>
<polygon points="653.92,467.01 651.52,471.21 656.32,471.21" fill="#0000b0" stroke="#000" stroke-width="0.3"/>
<polygon points="653.92,472.21 651.52,468.01 656.32,468.01" fill="#1d6b6b" stroke="#000" stroke-width="0.3"/>
<circle cx="653.92" cy="387.69" r="2.3" fill="#0000e0" stroke="#000020" stroke-width="0.4"/>
<line x1="618.20" y1="380.70" x2="618.20" y2="409.56" stroke="#222" stroke-width="0.8"/>
<line x1="617.20" y1="380.70" x2="619.20" y2="380.70" stroke="#222" stroke-width="0.8"/>
<line x1="617.20" y1="409.56" x2="619.20" y2="409.56" stroke="#222" stroke-width="0.8"/>
<polygon points="618.20,388.90 619.90,392.35 623.72,392.91 620.96,395.60 621.61,399.39 618.20,397.60 614.79,399.39 615.44,395.60 612.68,392.91 616.50,392.35" fill="#1a1a1a"/>
</svg></body></html>
